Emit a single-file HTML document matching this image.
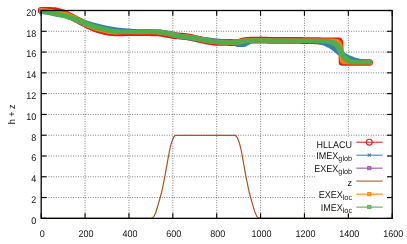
<!DOCTYPE html>
<html><head><meta charset="utf-8"><title>plot</title>
<style>
html,body{margin:0;padding:0;background:#fff;}
svg{display:block}
text{font-family:"Liberation Sans",sans-serif;fill:#000;text-rendering:geometricPrecision}
</style></head><body>
<svg width="407" height="244" viewBox="0 0 407 244">
<rect width="407" height="244" fill="#fff"/>
<g stroke="#000" stroke-width="0.85" stroke-dasharray="0.85 1.61" stroke-opacity="0.7" fill="none"><line x1="85.08" y1="10.5" x2="85.08" y2="218.35"/><line x1="128.95" y1="10.5" x2="128.95" y2="218.35"/><line x1="172.82" y1="10.5" x2="172.82" y2="218.35"/><line x1="216.70" y1="10.5" x2="216.70" y2="218.35"/><line x1="260.57" y1="10.5" x2="260.57" y2="218.35"/><line x1="304.45" y1="10.5" x2="304.45" y2="218.35"/><line x1="348.32" y1="10.5" x2="348.32" y2="218.35"/><line x1="41.2" y1="197.56" x2="392.2" y2="197.56"/><line x1="41.2" y1="176.78" x2="392.2" y2="176.78"/><line x1="41.2" y1="156.00" x2="392.2" y2="156.00"/><line x1="41.2" y1="135.21" x2="392.2" y2="135.21"/><line x1="41.2" y1="114.42" x2="392.2" y2="114.42"/><line x1="41.2" y1="93.64" x2="392.2" y2="93.64"/><line x1="41.2" y1="72.85" x2="392.2" y2="72.85"/><line x1="41.2" y1="52.07" x2="392.2" y2="52.07"/><line x1="41.2" y1="31.28" x2="392.2" y2="31.28"/></g>
<g fill="none" stroke="#e41a1c" stroke-linecap="round" stroke-linejoin="round"><path d="M41.20,10.50 L41.70,10.50 L42.20,10.50 L42.70,10.50 L43.20,10.50 L43.70,10.50 L44.20,10.50 L44.70,10.50 L45.20,10.50 L45.70,10.50 L46.20,10.50 L46.70,10.50 L47.20,10.50 L47.70,10.50 L48.20,10.50 L48.70,10.50 L49.20,10.50 L49.70,10.50 L50.20,10.51 L50.70,10.51 L51.20,10.52 L51.70,10.53 L52.20,10.54 L52.70,10.55 L53.20,10.56 L53.70,10.57 L54.20,10.59 L54.69,10.62 L55.19,10.69 L55.67,10.79 L56.16,10.91 L56.64,11.03 L57.13,11.16 L57.61,11.29 L58.09,11.42 L58.58,11.54 L59.06,11.67 L59.54,11.80 L60.02,11.94 L60.50,12.08 L60.98,12.23 L61.46,12.38 L61.93,12.53 L62.41,12.69 L62.88,12.84 L63.36,13.00 L63.83,13.16 L64.31,13.31 L64.78,13.47 L65.25,13.64 L65.71,13.84 L66.16,14.05 L66.60,14.28 L67.05,14.51 L67.49,14.74 L67.93,14.97 L68.38,15.21 L68.82,15.44 L69.26,15.67 L69.70,15.90 L70.15,16.13 L70.59,16.37 L71.03,16.60 L71.48,16.83 L71.92,17.06 L72.36,17.29 L72.80,17.53 L73.25,17.76 L73.69,17.99 L74.13,18.22 L74.58,18.45 L75.02,18.69 L75.46,18.92 L75.90,19.15 L76.35,19.38 L76.79,19.62 L77.23,19.85 L77.67,20.09 L78.11,20.32 L78.56,20.56 L79.00,20.79 L79.44,21.02 L79.88,21.26 L80.32,21.49 L80.76,21.73 L81.21,21.96 L81.65,22.20 L82.09,22.43 L82.53,22.67 L82.97,22.90 L83.41,23.13 L83.86,23.37 L84.30,23.60 L84.74,23.84 L85.18,24.07 L85.63,24.30 L86.07,24.52 L86.53,24.74 L86.98,24.95 L87.43,25.16 L87.88,25.37 L88.34,25.58 L88.79,25.79 L89.25,26.00 L89.70,26.21 L90.15,26.42 L90.61,26.63 L91.06,26.84 L91.51,27.05 L91.97,27.26 L92.42,27.48 L92.87,27.69 L93.33,27.90 L93.78,28.11 L94.23,28.32 L94.69,28.53 L95.14,28.73 L95.60,28.92 L96.07,29.09 L96.55,29.23 L97.03,29.37 L97.51,29.50 L98.00,29.63 L98.48,29.77 L98.96,29.90 L99.44,30.03 L99.93,30.16 L100.41,30.30 L100.89,30.43 L101.37,30.56 L101.85,30.70 L102.34,30.83 L102.82,30.96 L103.30,31.09 L103.78,31.23 L104.26,31.36 L104.75,31.49 L105.23,31.61 L105.72,31.72 L106.21,31.82 L106.70,31.91 L107.19,32.00 L107.68,32.09 L108.18,32.18 L108.67,32.26 L109.16,32.35 L109.65,32.42 L110.15,32.49 L110.65,32.53 L111.15,32.56 L111.64,32.59 L112.14,32.62 L112.64,32.65 L113.14,32.68 L113.64,32.71 L114.14,32.73 L114.64,32.76 L115.14,32.78 L115.64,32.79 L116.14,32.79 L116.64,32.78 L117.14,32.78 L117.64,32.77 L118.14,32.77 L118.64,32.76 L119.14,32.76 L119.64,32.75 L120.14,32.75 L120.64,32.75 L121.14,32.74 L121.64,32.74 L122.14,32.74 L122.64,32.74 L123.14,32.73 L123.64,32.73 L124.14,32.73 L124.64,32.73 L125.14,32.72 L125.64,32.72 L126.14,32.72 L126.64,32.72 L127.14,32.71 L127.64,32.71 L128.14,32.71 L128.64,32.71 L129.14,32.70 L129.64,32.70 L130.14,32.70 L130.64,32.70 L131.14,32.70 L131.64,32.70 L132.14,32.70 L132.64,32.70 L133.14,32.70 L133.64,32.70 L134.14,32.70 L134.64,32.70 L135.14,32.70 L135.64,32.70 L136.14,32.70 L136.64,32.70 L137.14,32.70 L137.64,32.70 L138.14,32.70 L138.64,32.70 L139.14,32.70 L139.64,32.70 L140.14,32.70 L140.64,32.70 L141.14,32.70 L141.64,32.70 L142.14,32.70 L142.64,32.70 L143.14,32.70 L143.64,32.70 L144.14,32.70 L144.64,32.70 L145.14,32.70 L145.64,32.70 L146.14,32.70 L146.64,32.70 L147.14,32.70 L147.64,32.70 L148.14,32.70 L148.64,32.70 L149.14,32.70 L149.64,32.70 L150.14,32.71 L150.64,32.72 L151.14,32.73 L151.64,32.75 L152.14,32.77 L152.64,32.78 L153.14,32.80 L153.64,32.81 L154.14,32.83 L154.64,32.84 L155.14,32.86 L155.64,32.87 L156.14,32.89 L156.63,32.90 L157.13,32.92 L157.63,32.93 L158.13,32.95 L158.63,32.97 L159.13,32.99 L159.63,33.02 L160.13,33.08 L160.62,33.15 L161.11,33.24 L161.60,33.33 L162.10,33.42 L162.59,33.51 L163.08,33.60 L163.57,33.69 L164.06,33.78 L164.56,33.86 L165.05,33.95 L165.54,34.04 L166.03,34.13 L166.52,34.22 L167.02,34.31 L167.51,34.40 L168.00,34.49 L168.49,34.58 L168.98,34.67 L169.47,34.76 L169.96,34.86 L170.46,34.95 L170.95,35.05 L171.44,35.15 L171.93,35.25 L172.42,35.35 L172.90,35.45 L173.39,35.55 L173.89,35.65 L174.38,35.73 L174.87,35.79 L175.37,35.83 L175.87,35.85 L176.37,35.87 L176.87,35.89 L177.37,35.91 L177.87,35.93 L178.37,35.95 L178.87,35.98 L179.37,36.00 L179.86,36.04 L180.36,36.08 L180.86,36.13 L181.36,36.17 L181.86,36.22 L182.35,36.26 L182.85,36.31 L183.35,36.36 L183.85,36.40 L184.35,36.45 L184.84,36.49 L185.34,36.54 L185.84,36.60 L186.33,36.66 L186.83,36.73 L187.32,36.80 L187.82,36.88 L188.31,36.95 L188.81,37.03 L189.30,37.12 L189.79,37.22 L190.27,37.33 L190.76,37.44 L191.25,37.55 L191.74,37.66 L192.22,37.77 L192.71,37.89 L193.20,38.00 L193.69,38.11 L194.17,38.22 L194.66,38.34 L195.15,38.45 L195.63,38.56 L196.12,38.67 L196.61,38.78 L197.10,38.89 L197.59,39.00 L198.07,39.11 L198.56,39.21 L199.05,39.32 L199.54,39.43 L200.03,39.54 L200.51,39.65 L201.00,39.76 L201.49,39.86 L201.98,39.97 L202.47,40.08 L202.96,40.19 L203.44,40.30 L203.93,40.41 L204.42,40.52 L204.91,40.62 L205.40,40.73 L205.89,40.82 L206.38,40.91 L206.87,40.99 L207.37,41.07 L207.86,41.15 L208.35,41.23 L208.85,41.31 L209.34,41.39 L209.83,41.47 L210.33,41.56 L210.82,41.64 L211.31,41.72 L211.81,41.80 L212.30,41.88 L212.79,41.96 L213.29,42.04 L213.78,42.12 L214.27,42.20 L214.77,42.27 L215.26,42.34 L215.76,42.38 L216.26,42.40 L216.76,42.41 L217.26,42.41 L217.76,42.41 L218.26,42.41 L218.76,42.42 L219.26,42.42 L219.76,42.42 L220.26,42.42 L220.76,42.43 L221.26,42.43 L221.76,42.43 L222.26,42.43 L222.76,42.44 L223.26,42.44 L223.76,42.44 L224.26,42.44 L224.76,42.45 L225.26,42.45 L225.76,42.45 L226.26,42.46 L226.76,42.46 L227.26,42.47 L227.76,42.47 L228.26,42.47 L228.76,42.48 L229.26,42.48 L229.76,42.48 L230.26,42.49 L230.76,42.49 L231.26,42.50 L231.76,42.51 L232.26,42.53 L232.76,42.56 L233.26,42.59 L233.75,42.62 L234.25,42.65 L234.75,42.68 L235.25,42.71 L235.75,42.74 L236.25,42.76 L236.75,42.76 L237.25,42.73 L237.74,42.69 L238.24,42.63 L238.73,42.57 L239.22,42.47 L239.68,42.32 L240.13,42.11 L240.56,41.87 L241.00,41.63 L241.44,41.41 L241.90,41.23 L242.37,41.11 L242.86,41.01 L243.36,40.93 L243.85,40.85 L244.34,40.77 L244.84,40.69 L245.33,40.61 L245.82,40.53 L246.32,40.46 L246.81,40.41 L247.31,40.37 L247.81,40.34 L248.31,40.31 L248.81,40.29 L249.31,40.26 L249.81,40.24 L250.31,40.21 L250.81,40.19 L251.31,40.17 L251.81,40.15 L252.31,40.14 L252.81,40.13 L253.31,40.12 L253.81,40.11 L254.31,40.11 L254.81,40.10 L255.31,40.09 L255.81,40.08 L256.31,40.08 L256.81,40.07 L257.31,40.06 L257.81,40.05 L258.31,40.05 L258.81,40.04 L259.31,40.03 L259.81,40.02 L260.31,40.02 L260.81,40.01 L261.31,40.01 L261.80,40.02 L262.30,40.04 L262.80,40.06 L263.30,40.08 L263.80,40.10 L264.30,40.12 L264.80,40.14 L265.30,40.16 L265.80,40.18 L266.30,40.20 L266.80,40.22 L267.30,40.24 L267.80,40.26 L268.30,40.28 L268.80,40.30 L269.30,40.32 L269.80,40.34 L270.30,40.35 L270.80,40.35 L271.30,40.35 L271.80,40.35 L272.30,40.35 L272.80,40.35 L273.30,40.36 L273.80,40.36 L274.30,40.36 L274.80,40.36 L275.30,40.36 L275.80,40.36 L276.30,40.36 L276.80,40.36 L277.30,40.36 L277.80,40.36 L278.30,40.36 L278.80,40.37 L279.30,40.37 L279.80,40.37 L280.30,40.37 L280.80,40.37 L281.30,40.37 L281.80,40.37 L282.30,40.37 L282.80,40.37 L283.30,40.37 L283.80,40.37 L284.30,40.38 L284.80,40.38 L285.30,40.38 L285.80,40.38 L286.30,40.38 L286.80,40.38 L287.30,40.38 L287.80,40.38 L288.30,40.38 L288.80,40.38 L289.30,40.38 L289.80,40.39 L290.30,40.39 L290.80,40.39 L291.30,40.39 L291.80,40.39 L292.30,40.39 L292.80,40.39 L293.30,40.39 L293.80,40.39 L294.30,40.39 L294.80,40.39 L295.30,40.40 L295.80,40.40 L296.30,40.40 L296.80,40.40 L297.30,40.40 L297.80,40.40 L298.30,40.41 L298.80,40.42 L299.30,40.43 L299.80,40.44 L300.30,40.46 L300.80,40.47 L301.30,40.48 L301.80,40.49 L302.30,40.51 L302.80,40.52 L303.30,40.53 L303.80,40.54 L304.30,40.56 L304.80,40.57 L305.30,40.58 L305.80,40.59 L306.30,40.61 L306.80,40.62 L307.30,40.63 L307.80,40.64 L308.29,40.66 L308.79,40.67 L309.29,40.68 L309.79,40.69 L310.29,40.70 L310.79,40.71 L311.29,40.71 L311.79,40.71 L312.29,40.72 L312.79,40.72 L313.29,40.72 L313.79,40.73 L314.29,40.73 L314.79,40.73 L315.29,40.74 L315.79,40.74 L316.29,40.74 L316.79,40.75 L317.29,40.75 L317.79,40.76 L318.29,40.76 L318.79,40.76 L319.29,40.77 L319.79,40.77 L320.29,40.77 L320.79,40.78 L321.29,40.78 L321.79,40.78 L322.29,40.79 L322.79,40.79 L323.29,40.79 L323.79,40.80 L324.29,40.80 L324.79,40.80 L325.29,40.80 L325.79,40.80 L326.29,40.80 L326.79,40.80 L327.29,40.80 L327.79,40.80 L328.29,40.80 L328.79,40.80 L329.29,40.80 L329.79,40.80 L330.29,40.80 L330.79,40.80 L331.29,40.80 L331.79,40.80 L332.29,40.80 L332.79,40.80 L333.29,40.80 L333.79,40.80 L334.29,40.80 L334.79,40.80 L335.29,40.80 L335.79,40.81 L336.29,40.81 L336.79,40.83 L337.29,40.84 L337.79,40.86 L338.26,40.88 L338.66,40.89 L339.00,40.90" stroke-width="6.8"/><path d="M340.50,42.20 L340.53,42.70 L340.55,43.20 L340.58,43.70 L340.60,44.20 L340.63,44.70 L340.65,45.20 L340.68,45.70 L340.71,46.19 L340.73,46.69 L340.76,47.19 L340.78,47.69 L340.81,48.19 L340.84,48.69 L340.87,49.19 L340.90,49.69 L340.93,50.19 L340.95,50.69 L340.98,51.19 L341.01,51.69 L341.04,52.19 L341.07,52.68 L341.10,53.18 L341.12,53.68 L341.15,54.18 L341.18,54.68 L341.20,55.18 L341.22,55.68 L341.23,56.18 L341.25,56.68 L341.26,57.18 L341.27,57.68 L341.29,58.18 L341.30,58.68 L341.31,59.18 L341.33,59.68 L341.34,60.18 L341.36,60.68 L341.37,61.17 L341.38,61.63 L341.39,62.01 L341.40,62.30" stroke-width="5.3"/><path d="M342.20,62.45 L342.70,62.45 L343.20,62.45 L343.70,62.45 L344.20,62.45 L344.70,62.45 L345.20,62.45 L345.70,62.45 L346.20,62.45 L346.70,62.45 L347.20,62.45 L347.70,62.45 L348.20,62.45 L348.70,62.45 L349.20,62.45 L349.70,62.45 L350.20,62.45 L350.70,62.45 L351.20,62.45 L351.70,62.45 L352.20,62.45 L352.70,62.45 L353.20,62.45 L353.70,62.45 L354.20,62.45 L354.70,62.45 L355.20,62.45 L355.70,62.45 L356.20,62.45 L356.70,62.45 L357.20,62.45 L357.70,62.45 L358.20,62.45 L358.70,62.45 L359.20,62.45 L359.70,62.45 L360.20,62.45 L360.70,62.45 L361.20,62.45 L361.70,62.45 L362.20,62.45 L362.70,62.45 L363.20,62.45 L363.70,62.45 L364.20,62.45 L364.70,62.45 L365.20,62.45 L365.70,62.45 L366.20,62.45 L366.70,62.45 L367.20,62.45 L367.70,62.45 L368.20,62.45 L368.69,62.45 L369.15,62.45 L369.60,62.45" stroke-width="6.6"/></g>
<path d="M39.1,9.25 39.6,9.25 40.1,9.25 40.6,9.25 41.1,9.25 41.6,9.25 42.1,9.25 42.6,9.25 43.1,9.25 43.6,9.33 44.1,9.41 44.6,9.48 45.1,9.56 45.6,9.64 46.1,9.72 46.6,9.80 47.1,9.87 47.6,9.95 48.1,10.03 48.6,10.11 49.1,10.19 49.6,10.26 50.1,10.34 50.6,10.42 51.1,10.50 51.6,10.58 52.1,10.66 52.6,10.74 53.1,10.84 53.6,10.95 54.1,11.06 54.6,11.17 55.1,11.28 55.6,11.40 56.1,11.51 56.6,11.62 57.1,11.73 57.6,11.84 58.1,11.96 58.6,12.07 59.1,12.18 59.6,12.29 60.1,12.49 60.6,12.57 61.1,12.66 61.6,12.74 62.1,12.82 62.6,12.90 63.1,12.98 63.6,13.06 64.1,13.14 64.6,13.22 65.1,13.30 65.6,13.38 66.1,13.46 66.6,13.54 67.1,13.64 67.6,13.75 68.1,13.89 68.6,14.03 69.1,14.17 69.6,14.32 70.1,14.46 70.6,14.61 71.1,14.76 71.6,14.90 72.1,15.05 72.6,15.19 73.1,15.34 73.6,15.48 74.1,15.63 74.6,15.78 75.1,15.92 75.6,16.07 76.1,16.21 76.6,16.51 77.1,16.65 77.6,16.81 78.1,16.98 78.6,17.16 79.1,17.35 79.6,17.54 80.1,17.73 80.6,17.91 81.1,18.10 81.6,18.29 82.1,18.48 82.6,18.67 83.1,18.86 83.6,19.24 84.1,19.43 84.6,19.61 85.1,19.80 85.6,19.99 86.1,20.18 86.6,20.37 87.1,20.56 87.6,20.73 88.1,20.90 88.6,21.05 89.1,21.18 89.6,21.32 90.1,21.46 90.6,21.59 91.1,21.73 91.6,22.00 92.1,22.14 92.6,22.27 93.1,22.41 93.6,22.55 94.1,22.68 94.6,22.82 95.1,22.95 95.6,23.09 96.1,23.23 96.6,23.36 97.1,23.50 97.6,23.62 98.1,23.75 98.6,23.86 99.1,23.97 99.6,24.08 100.1,24.20 100.6,24.31 101.1,24.42 101.6,24.53 102.1,24.64 102.6,24.76 103.1,24.87 103.6,24.98 104.1,25.09 104.6,25.20 105.1,25.32 105.6,25.43 106.1,25.54 106.6,25.65 107.1,25.76 107.6,25.95 108.1,26.04 108.6,26.11 109.1,26.19 109.6,26.27 110.1,26.34 110.6,26.42 111.1,26.50 111.6,26.58 112.1,26.66 112.6,26.74 113.1,26.82 113.6,26.91 114.1,26.99 114.6,27.07 115.1,27.16 115.6,27.24 116.1,27.33 116.6,27.41 117.1,27.48 117.6,27.54 118.1,27.59 118.6,27.65 119.1,27.69 119.6,27.74 120.1,27.79 120.6,27.84 121.1,27.89 121.6,27.94 122.1,27.99 122.6,28.03 123.1,28.08 123.6,28.13 124.1,28.17 124.6,28.22 125.1,28.26 125.6,28.31 126.1,28.35 126.6,28.40 127.1,28.44 127.6,28.49 128.1,28.53 128.6,28.58 129.1,28.62 129.6,28.67 130.1,28.71 130.6,28.76 131.1,28.80 131.6,28.83 132.1,28.86 132.6,28.88 133.1,28.89 133.6,28.90 134.1,28.92 134.6,28.93 135.1,28.94 135.6,28.95 136.1,28.97 136.6,28.98 137.1,28.99 137.6,29.01 138.1,29.02 138.6,29.03 139.1,29.05 139.6,29.06 140.1,29.07 140.6,29.09 141.1,29.10 141.6,29.11 142.1,29.12 142.6,29.14 143.1,29.15 143.6,29.16 144.1,29.18 144.6,29.19 145.1,29.20 145.6,29.22 146.1,29.23 146.6,29.24 147.1,29.25 147.6,29.27 148.1,29.28 148.6,29.29 149.1,29.30 149.6,29.31 150.1,29.33 150.6,29.34 151.1,29.35 151.6,29.36 152.1,29.37 152.6,29.38 153.1,29.40 153.6,29.41 154.1,29.42 154.6,29.43 155.1,29.44 155.6,29.46 156.1,29.47 156.6,29.48 157.1,29.49 157.6,29.50 158.1,29.51 158.6,29.53 159.1,29.54 159.6,29.55 160.1,29.56 160.6,29.57 161.1,29.59 161.6,29.62 162.1,29.67 162.6,29.74 163.1,29.81 163.6,29.88 164.1,29.96 164.6,30.03 165.1,30.11 165.6,30.18 166.1,30.26 166.6,30.33 167.1,30.41 167.6,30.48 168.1,30.56 168.6,30.63 169.1,30.71 169.6,30.78 170.1,30.86 170.6,30.93 171.1,31.01 171.6,31.10 172.1,31.21 172.6,31.33 173.1,31.45 173.6,31.58 174.1,31.71 174.6,31.84 175.1,31.96 175.6,32.09 176.1,32.23 176.6,32.37 177.1,32.72 177.6,32.91 178.1,33.11 178.6,33.31 179.1,33.50 179.6,33.70 180.1,33.90 180.6,34.09 181.1,34.28 181.6,34.43 182.1,34.55 182.6,34.63 183.1,34.70 183.6,34.77 184.1,34.84 184.6,34.91 185.1,34.97 185.6,35.04 186.1,35.11 186.6,35.18 187.1,35.25 187.6,35.31 188.1,35.38 188.6,35.45 189.1,35.52 189.6,35.66 190.1,35.72 190.6,35.79 191.1,35.85 191.6,35.90 192.1,35.95 192.6,36.00 193.1,36.04 193.6,36.09 194.1,36.13 194.6,36.18 195.1,36.22 195.6,36.27 196.1,36.32 196.6,36.36 197.1,36.41 197.6,36.45 198.1,36.50 198.6,36.54 199.1,36.58 199.6,36.63 200.1,36.67 200.6,36.71 201.1,36.75 201.6,36.80 202.1,36.84 202.6,36.88 203.1,36.92 203.6,36.97 204.1,37.01 204.6,37.05 205.1,37.10 205.6,37.14 206.1,37.18 206.6,37.23 207.1,37.27 207.6,37.32 208.1,37.38 208.6,37.44 209.1,37.50 209.6,37.57 210.1,37.63 210.6,37.69 211.1,37.76 211.6,37.82 212.1,37.88 212.6,37.95 213.1,38.01 213.6,38.07 214.1,38.14 214.6,38.20 215.1,38.26 215.6,38.33 216.1,38.39 216.6,38.45 217.1,38.51 217.6,38.57 218.1,38.62 218.6,38.66 219.1,38.71 219.6,38.75 220.1,38.80 220.6,38.85 221.1,38.89 221.6,38.94 222.1,38.98 222.6,39.03 223.1,39.07 223.6,39.12 224.1,39.17 224.6,39.21 225.1,39.26 225.6,39.30 226.1,39.35 226.6,39.39 227.1,39.43 227.6,39.47 228.1,39.50 228.6,39.54 229.1,39.57 229.6,39.60 230.1,39.63 230.6,39.66 231.1,39.69 231.6,39.72 232.1,39.75 232.6,39.78 233.1,39.82 233.6,39.88 234.1,39.97 234.6,40.08 235.1,40.20 235.6,40.33 236.1,40.47 236.6,40.64 237.1,40.84 237.6,41.06 238.1,41.29 238.6,41.72 239.1,41.91 239.6,42.09 240.1,42.26 240.6,42.43 241.1,42.38 241.6,42.21 242.1,42.03 242.6,41.83 243.1,41.61 243.6,41.39 244.1,41.16 244.6,40.70 245.1,40.46 245.6,40.21 246.1,39.96 246.6,39.71 247.1,39.48 247.6,39.27 248.1,39.08 248.6,38.75 249.1,38.61 249.6,38.51 250.1,38.45 250.6,38.43 251.1,38.42 251.6,38.41 252.1,38.40 252.6,38.39 253.1,38.38 253.6,38.37 254.1,38.36 254.6,38.35 255.1,38.33 255.6,38.32 256.1,38.31 256.6,38.30 257.1,38.29 257.6,38.28 258.1,38.27 258.6,38.27 259.1,38.26 259.6,38.26 260.1,38.26 260.6,38.26 261.1,38.26 261.6,38.26 262.1,38.26 262.6,38.26 263.1,38.26 263.6,38.27 264.1,38.28 264.6,38.30 265.1,38.31 265.6,38.33 266.1,38.35 266.6,38.37 267.1,38.38 267.6,38.40 268.1,38.42 268.6,38.43 269.1,38.45 269.6,38.47 270.1,38.49 270.6,38.50 271.1,38.52 271.6,38.53 272.1,38.54 272.6,38.55 273.1,38.55 273.6,38.55 274.1,38.55 274.6,38.55 275.1,38.56 275.6,38.56 276.1,38.56 276.6,38.56 277.1,38.56 277.6,38.56 278.1,38.56 278.6,38.56 279.1,38.56 279.6,38.56 280.1,38.56 280.6,38.57 281.1,38.57 281.6,38.57 282.1,38.57 282.6,38.57 283.1,38.57 283.6,38.57 284.1,38.57 284.6,38.57 285.1,38.57 285.6,38.57 286.1,38.58 286.6,38.58 287.1,38.58 287.6,38.58 288.1,38.58 288.6,38.58 289.1,38.58 289.6,38.58 290.1,38.58 290.6,38.58 291.1,38.58 291.6,38.59 292.1,38.59 292.6,38.59 293.1,38.59 293.6,38.59 294.1,38.59 294.6,38.59 295.1,38.59 295.6,38.59 296.1,38.59 296.6,38.59 297.1,38.59 297.6,38.60 298.1,38.60 298.6,38.60 299.1,38.60 299.6,38.60 300.1,38.60 300.6,38.61 301.1,38.62 301.6,38.62 302.1,38.63 302.6,38.64 303.1,38.65 303.6,38.65 304.1,38.66 304.6,38.67 305.1,38.68 305.6,38.68 306.1,38.69 306.6,38.70 307.1,38.71 307.6,38.71 308.1,38.72 308.6,38.73 309.1,38.74 309.6,38.75 310.1,38.77 310.6,38.79 311.1,38.81 311.6,38.84 312.1,38.87 312.6,38.90 313.1,38.93 313.6,38.96 314.1,38.99 314.6,39.01 315.1,39.04 315.6,39.07 316.1,39.10 316.6,39.14 317.1,39.19 317.6,39.25 318.1,39.33 318.6,39.41 319.1,39.49 319.6,39.56 320.1,39.64 320.6,39.72 321.1,39.80 321.6,39.89 322.1,39.98 322.6,40.08 323.1,40.19 323.6,40.30 324.1,40.41 324.6,40.52 325.1,40.63 325.6,40.75 326.1,40.88 326.6,41.01 327.1,41.15 327.6,41.45 328.1,41.63 328.6,41.83 329.1,42.04 329.6,42.26 330.1,42.48 330.6,42.69 331.1,42.91 331.6,43.12 332.1,43.34 332.6,43.80 333.1,44.05 333.6,44.33 334.1,44.61 334.6,44.90 335.1,45.18 335.6,45.76 336.1,46.04 336.6,46.33 337.1,46.62 337.6,47.20 338.1,47.52 338.6,47.84 339.1,48.52 339.6,48.85 340.1,49.19 340.6,49.83 341.1,50.13 341.6,50.42 342.1,50.72 342.6,51.29 343.1,51.57 343.6,51.85 344.1,52.12 344.6,52.39 345.1,52.93 345.6,53.20 346.1,53.47 346.6,53.73 347.1,53.98 347.6,54.22 348.1,54.69 348.6,54.93 349.1,55.16 349.6,55.40 350.1,55.62 350.6,55.83 351.1,56.02 351.6,56.20 352.1,56.37 352.6,56.53 353.1,56.87 353.6,57.04 354.1,57.20 354.6,57.36 355.1,57.51 355.6,57.65 356.1,57.79 356.6,57.93 357.1,58.06 357.6,58.20 358.1,58.33 358.6,58.47 359.1,58.60 359.6,58.73 360.1,58.84 360.6,58.94 361.1,59.03 361.6,59.11 362.1,59.19 362.6,59.27 363.1,59.36 363.6,59.44 364.1,59.52 364.6,59.60 365.1,59.68 365.6,59.76 366.1,59.82 366.6,59.87 367.1,59.90 367.6,59.93 368.1,59.96 368.6,59.98 369.1,60.01 369.6,60.04 370.1,60.06 370.6,60.09 371.1,60.11 371.6,60.15 371.6,64.45 371.1,64.45 370.6,64.45 370.1,64.45 369.6,64.45 369.1,64.45 368.6,64.45 368.1,64.45 367.6,64.45 367.1,64.41 366.6,64.39 366.1,64.36 365.6,64.34 365.1,64.31 364.6,64.28 364.1,64.26 363.6,64.23 363.1,64.20 362.6,64.17 362.1,64.12 361.6,64.06 361.1,63.98 360.6,63.90 360.1,63.82 359.6,63.74 359.1,63.66 358.6,63.57 358.1,63.49 357.6,63.41 357.1,63.33 356.6,63.24 356.1,63.14 355.6,63.03 355.1,62.90 354.6,62.77 354.1,62.63 353.6,62.50 353.1,62.36 352.6,62.23 352.1,61.95 351.6,61.81 351.1,61.66 350.6,61.50 350.1,61.34 349.6,61.17 349.1,61.00 348.6,60.83 348.1,60.67 347.6,60.50 347.1,60.32 346.6,60.13 346.1,59.92 345.6,59.70 345.1,59.23 344.6,58.99 344.1,58.76 343.6,58.52 343.1,58.28 342.6,58.03 342.1,57.77 341.6,57.23 341.1,56.96 340.6,56.69 340.1,56.42 339.6,56.15 339.1,55.59 338.6,55.31 338.1,55.02 337.6,54.72 337.1,54.43 336.6,53.81 336.1,53.49 335.6,53.15 335.1,52.48 334.6,52.14 334.1,51.82 333.6,51.21 333.1,50.92 332.6,50.63 332.1,50.34 331.6,49.77 331.1,49.48 330.6,49.20 330.1,48.91 329.6,48.63 329.1,48.10 328.6,47.86 328.1,47.64 327.6,47.42 327.1,47.21 326.6,46.99 326.1,46.78 325.6,46.56 325.1,46.13 324.6,45.93 324.1,45.75 323.6,45.59 323.1,45.45 322.6,45.31 322.1,45.18 321.6,45.05 321.1,44.93 320.6,44.82 320.1,44.71 319.6,44.60 319.1,44.49 318.6,44.38 318.1,44.28 317.6,44.19 317.1,44.10 316.6,44.02 316.1,43.94 315.6,43.86 315.1,43.79 314.6,43.71 314.1,43.63 313.6,43.55 313.1,43.49 312.6,43.44 312.1,43.40 311.6,43.37 311.1,43.34 310.6,43.31 310.1,43.29 309.6,43.26 309.1,43.23 308.6,43.20 308.1,43.17 307.6,43.14 307.1,43.11 306.6,43.09 306.1,43.07 305.6,43.05 305.1,43.04 304.6,43.03 304.1,43.02 303.6,43.01 303.1,43.01 302.6,43.00 302.1,42.99 301.6,42.98 301.1,42.98 300.6,42.97 300.1,42.96 299.6,42.95 299.1,42.95 298.6,42.94 298.1,42.93 297.6,42.92 297.1,42.92 296.6,42.91 296.1,42.90 295.6,42.90 295.1,42.90 294.6,42.90 294.1,42.90 293.6,42.90 293.1,42.89 292.6,42.89 292.1,42.89 291.6,42.89 291.1,42.89 290.6,42.89 290.1,42.89 289.6,42.89 289.1,42.89 288.6,42.89 288.1,42.89 287.6,42.89 287.1,42.88 286.6,42.88 286.1,42.88 285.6,42.88 285.1,42.88 284.6,42.88 284.1,42.88 283.6,42.88 283.1,42.88 282.6,42.88 282.1,42.88 281.6,42.87 281.1,42.87 280.6,42.87 280.1,42.87 279.6,42.87 279.1,42.87 278.6,42.87 278.1,42.87 277.6,42.87 277.1,42.87 276.6,42.87 276.1,42.86 275.6,42.86 275.1,42.86 274.6,42.86 274.1,42.86 273.6,42.86 273.1,42.86 272.6,42.86 272.1,42.86 271.6,42.86 271.1,42.86 270.6,42.85 270.1,42.85 269.6,42.85 269.1,42.85 268.6,42.85 268.1,42.84 267.6,42.83 267.1,42.82 266.6,42.80 266.1,42.79 265.6,42.77 265.1,42.75 264.6,42.73 264.1,42.72 263.6,42.70 263.1,42.68 262.6,42.67 262.1,42.65 261.6,42.63 261.1,42.61 260.6,42.60 260.1,42.61 259.6,42.62 259.1,42.63 258.6,42.65 258.1,42.66 257.6,42.67 257.1,42.68 256.6,42.69 256.1,42.70 255.6,42.71 255.1,42.72 254.6,42.73 254.1,42.75 253.6,42.81 253.1,42.91 252.6,43.05 252.1,43.21 251.6,43.38 251.1,43.57 250.6,43.78 250.1,44.26 249.6,44.51 249.1,44.76 248.6,45.00 248.1,45.23 247.6,45.46 247.1,45.69 246.6,46.13 246.1,46.33 245.6,46.51 245.1,46.68 244.6,46.84 244.1,46.98 243.6,47.07 243.1,47.10 242.6,47.10 242.1,47.10 241.6,47.10 241.1,47.10 240.6,47.10 240.1,47.10 239.6,47.10 239.1,47.10 238.6,47.10 238.1,47.06 237.6,47.00 237.1,46.88 236.6,46.73 236.1,46.39 235.6,46.21 235.1,46.02 234.6,45.81 234.1,45.59 233.6,45.36 233.1,45.14 232.6,44.94 232.1,44.77 231.6,44.63 231.1,44.50 230.6,44.38 230.1,44.27 229.6,44.18 229.1,44.12 228.6,44.08 228.1,44.05 227.6,44.02 227.1,43.99 226.6,43.96 226.1,43.93 225.6,43.90 225.1,43.87 224.6,43.84 224.1,43.80 223.6,43.77 223.1,43.73 222.6,43.69 222.1,43.65 221.6,43.56 221.1,43.51 220.6,43.47 220.1,43.42 219.6,43.37 219.1,43.33 218.6,43.28 218.1,43.24 217.6,43.19 217.1,43.15 216.6,43.10 216.1,43.05 215.6,43.01 215.1,42.96 214.6,42.92 214.1,42.87 213.6,42.81 213.1,42.75 212.6,42.69 212.1,42.63 211.6,42.56 211.1,42.50 210.6,42.44 210.1,42.37 209.6,42.31 209.1,42.25 208.6,42.18 208.1,42.12 207.6,42.06 207.1,41.99 206.6,41.93 206.1,41.87 205.6,41.80 205.1,41.74 204.6,41.68 204.1,41.62 203.6,41.57 203.1,41.53 202.6,41.48 202.1,41.44 201.6,41.40 201.1,41.35 200.6,41.31 200.1,41.27 199.6,41.22 199.1,41.18 198.6,41.14 198.1,41.10 197.6,41.05 197.1,41.01 196.6,40.97 196.1,40.93 195.6,40.88 195.1,40.84 194.6,40.80 194.1,40.75 193.6,40.71 193.1,40.66 192.6,40.62 192.1,40.57 191.6,40.52 191.1,40.48 190.6,40.43 190.1,40.39 189.6,40.34 189.1,40.30 188.6,40.25 188.1,40.20 187.6,40.15 187.1,40.09 186.6,40.02 186.1,39.96 185.6,39.89 185.1,39.82 184.6,39.75 184.1,39.68 183.6,39.61 183.1,39.55 182.6,39.48 182.1,39.41 181.6,39.34 181.1,39.27 180.6,39.21 180.1,39.14 179.6,39.07 179.1,39.00 178.6,38.93 178.1,38.85 177.6,38.73 177.1,38.58 176.6,38.39 176.1,38.20 175.6,38.00 175.1,37.80 174.6,37.41 174.1,37.21 173.6,37.02 173.1,36.84 172.6,36.67 172.1,36.53 171.6,36.39 171.1,36.26 170.6,36.14 170.1,36.01 169.6,35.88 169.1,35.75 168.6,35.63 168.1,35.51 167.6,35.40 167.1,35.31 166.6,35.23 166.1,35.16 165.6,35.08 165.1,35.01 164.6,34.93 164.1,34.86 163.6,34.78 163.1,34.71 162.6,34.63 162.1,34.56 161.6,34.48 161.1,34.41 160.6,34.33 160.1,34.26 159.6,34.18 159.1,34.11 158.6,34.04 158.1,33.97 157.6,33.92 157.1,33.89 156.6,33.87 156.1,33.86 155.6,33.85 155.1,33.84 154.6,33.83 154.1,33.81 153.6,33.80 153.1,33.79 152.6,33.78 152.1,33.77 151.6,33.76 151.1,33.74 150.6,33.73 150.1,33.72 149.6,33.71 149.1,33.70 148.6,33.68 148.1,33.67 147.6,33.66 147.1,33.65 146.6,33.64 146.1,33.63 145.6,33.61 145.1,33.60 144.6,33.59 144.1,33.58 143.6,33.57 143.1,33.55 142.6,33.54 142.1,33.53 141.6,33.52 141.1,33.50 140.6,33.49 140.1,33.48 139.6,33.46 139.1,33.45 138.6,33.44 138.1,33.42 137.6,33.41 137.1,33.40 136.6,33.39 136.1,33.37 135.6,33.36 135.1,33.35 134.6,33.33 134.1,33.32 133.6,33.31 133.1,33.29 132.6,33.28 132.1,33.27 131.6,33.25 131.1,33.24 130.6,33.23 130.1,33.22 129.6,33.20 129.1,33.19 128.6,33.18 128.1,33.16 127.6,33.13 127.1,33.10 126.6,33.06 126.1,32.97 125.6,32.92 125.1,32.88 124.6,32.83 124.1,32.79 123.6,32.74 123.1,32.70 122.6,32.65 122.1,32.61 121.6,32.56 121.1,32.52 120.6,32.47 120.1,32.43 119.6,32.38 119.1,32.33 118.6,32.29 118.1,32.24 117.6,32.19 117.1,32.14 116.6,32.09 116.1,32.04 115.6,31.99 115.1,31.95 114.6,31.89 114.1,31.84 113.6,31.78 113.1,31.71 112.6,31.63 112.1,31.54 111.6,31.46 111.1,31.37 110.6,31.29 110.1,31.21 109.6,31.12 109.1,31.04 108.6,30.96 108.1,30.88 107.6,30.80 107.1,30.72 106.6,30.64 106.1,30.57 105.6,30.49 105.1,30.41 104.6,30.34 104.1,30.25 103.6,30.16 103.1,30.06 102.6,29.95 102.1,29.84 101.6,29.73 101.1,29.62 100.6,29.50 100.1,29.39 99.6,29.28 99.1,29.17 98.6,29.06 98.1,28.94 97.6,28.83 97.1,28.72 96.6,28.61 96.1,28.50 95.6,28.38 95.1,28.27 94.6,28.16 94.1,28.05 93.6,27.92 93.1,27.80 92.6,27.66 92.1,27.39 91.6,27.25 91.1,27.12 90.6,26.98 90.1,26.85 89.6,26.71 89.1,26.57 88.6,26.44 88.1,26.30 87.6,26.17 87.1,26.03 86.6,25.89 86.1,25.76 85.6,25.62 85.1,25.48 84.6,25.35 84.1,25.20 83.6,25.03 83.1,24.86 82.6,24.67 82.1,24.48 81.6,24.29 81.1,23.91 80.6,23.73 80.1,23.54 79.6,23.35 79.1,23.16 78.6,22.97 78.1,22.78 77.6,22.59 77.1,22.40 76.6,22.21 76.1,22.03 75.6,21.84 75.1,21.46 74.6,21.28 74.1,21.11 73.6,20.95 73.1,20.81 72.6,20.66 72.1,20.51 71.6,20.37 71.1,20.22 70.6,20.08 70.1,19.93 69.6,19.78 69.1,19.64 68.6,19.49 68.1,19.35 67.6,19.20 67.1,19.06 66.6,18.91 66.1,18.76 65.6,18.62 65.1,18.33 64.6,18.19 64.1,18.05 63.6,17.94 63.1,17.84 62.6,17.76 62.1,17.68 61.6,17.60 61.1,17.52 60.6,17.44 60.1,17.36 59.6,17.28 59.1,17.20 58.6,17.12 58.1,17.04 57.6,16.96 57.1,16.87 56.6,16.79 56.1,16.69 55.6,16.59 55.1,16.48 54.6,16.37 54.1,16.26 53.6,16.14 53.1,16.03 52.6,15.92 52.1,15.81 51.6,15.70 51.1,15.58 50.6,15.47 50.1,15.36 49.6,15.25 49.1,15.14 48.6,15.04 48.1,14.96 47.6,14.88 47.1,14.80 46.6,14.72 46.1,14.64 45.6,14.56 45.1,14.49 44.6,14.41 44.1,14.33 43.6,14.25 43.1,14.17 42.6,14.10 42.1,14.02 41.6,13.94 41.1,13.86 40.6,13.78 40.1,13.71 39.6,13.63 39.1,13.55Z" fill="#377eb8"/>
<path d="M41.20,218.35 L150.50,218.35 L152.50,217.90 L154.00,216.30 L155.80,212.50 L158.00,205.20 L160.20,197.50 L161.70,192.00 L165.10,175.20 L168.50,156.00 L170.20,147.50 L171.70,142.20 L173.20,138.20 L174.50,136.20 L175.60,135.30 L235.20,135.30 L236.30,136.20 L237.60,138.20 L239.10,142.20 L240.60,147.50 L242.30,156.00 L245.70,175.20 L249.10,192.00 L250.60,197.50 L252.80,205.20 L255.00,212.50 L256.80,216.30 L258.30,217.90 L260.30,218.35 L369.60,218.35" fill="none" stroke="#a65628" stroke-width="1.2" stroke-linejoin="round"/>
<path d="M39.1,8.05 39.6,8.05 40.1,8.05 40.6,8.05 41.1,8.05 41.6,8.05 42.1,8.05 42.6,8.05 43.1,8.05 43.6,8.11 44.1,8.18 44.6,8.24 45.1,8.30 45.6,8.36 46.1,8.43 46.6,8.49 47.1,8.55 47.6,8.61 48.1,8.68 48.6,8.74 49.1,8.80 49.6,8.86 50.1,8.93 50.6,8.99 51.1,9.05 51.6,9.12 52.1,9.18 52.6,9.26 53.1,9.35 53.6,9.45 54.1,9.55 54.6,9.66 55.1,9.76 55.6,9.87 56.1,9.97 56.6,10.08 57.1,10.19 57.6,10.29 58.1,10.40 58.6,10.50 59.1,10.61 59.6,10.71 60.1,10.81 60.6,10.90 61.1,10.99 61.6,11.07 62.1,11.15 62.6,11.23 63.1,11.31 63.6,11.39 64.1,11.47 64.6,11.63 65.1,11.71 65.6,11.79 66.1,11.87 66.6,11.96 67.1,12.07 67.6,12.22 68.1,12.41 68.6,12.60 69.1,12.81 69.6,13.01 70.1,13.22 70.6,13.42 71.1,13.63 71.6,13.83 72.1,14.03 72.6,14.44 73.1,14.65 73.6,14.85 74.1,15.06 74.6,15.26 75.1,15.46 75.6,15.67 76.1,15.87 76.6,16.08 77.1,16.28 77.6,16.49 78.1,16.93 78.6,17.16 79.1,17.39 79.6,17.63 80.1,17.87 80.6,18.11 81.1,18.35 81.6,18.82 82.1,19.06 82.6,19.30 83.1,19.53 83.6,19.77 84.1,20.01 84.6,20.25 85.1,20.49 85.6,20.96 86.1,21.20 86.6,21.44 87.1,21.67 87.6,21.90 88.1,22.11 88.6,22.31 89.1,22.50 89.6,22.88 90.1,23.07 90.6,23.25 91.1,23.44 91.6,23.63 92.1,23.82 92.6,24.00 93.1,24.19 93.6,24.38 94.1,24.56 94.6,24.75 95.1,24.94 95.6,25.13 96.1,25.50 96.6,25.69 97.1,25.87 97.6,26.03 98.1,26.17 98.6,26.30 99.1,26.42 99.6,26.54 100.1,26.66 100.6,26.79 101.1,26.91 101.6,27.03 102.1,27.15 102.6,27.27 103.1,27.39 103.6,27.51 104.1,27.63 104.6,27.76 105.1,27.88 105.6,28.00 106.1,28.12 106.6,28.24 107.1,28.36 107.6,28.49 108.1,28.62 108.6,28.88 109.1,29.02 109.6,29.15 110.1,29.28 110.6,29.42 111.1,29.55 111.6,29.66 112.1,29.74 112.6,29.80 113.1,29.84 113.6,29.88 114.1,29.92 114.6,29.96 115.1,30.00 115.6,30.03 116.1,30.07 116.6,30.08 117.1,30.07 117.6,30.06 118.1,30.05 118.6,30.05 119.1,30.04 119.6,30.04 120.1,30.03 120.6,30.03 121.1,30.02 121.6,30.02 122.1,30.01 122.6,30.01 123.1,30.00 123.6,29.99 124.1,29.99 124.6,29.98 125.1,29.98 125.6,29.97 126.1,29.97 126.6,29.96 127.1,29.96 127.6,29.95 128.1,29.95 128.6,29.94 129.1,29.94 129.6,29.93 130.1,29.93 130.6,29.93 131.1,29.92 131.6,29.92 132.1,29.91 132.6,29.91 133.1,29.90 133.6,29.90 134.1,29.89 134.6,29.89 135.1,29.88 135.6,29.88 136.1,29.87 136.6,29.87 137.1,29.86 137.6,29.86 138.1,29.85 138.6,29.85 139.1,29.84 139.6,29.84 140.1,29.83 140.6,29.83 141.1,29.82 141.6,29.82 142.1,29.81 142.6,29.81 143.1,29.81 143.6,29.81 144.1,29.81 144.6,29.81 145.1,29.81 145.6,29.81 146.1,29.81 146.6,29.81 147.1,29.81 147.6,29.82 148.1,29.83 148.6,29.84 149.1,29.85 149.6,29.86 150.1,29.87 150.6,29.88 151.1,29.89 151.6,29.90 152.1,29.91 152.6,29.92 153.1,29.93 153.6,29.94 154.1,29.95 154.6,29.96 155.1,29.97 155.6,29.98 156.1,29.99 156.6,30.00 157.1,30.01 157.6,30.02 158.1,30.03 158.6,30.04 159.1,30.05 159.6,30.06 160.1,30.07 160.6,30.08 161.1,30.10 161.6,30.13 162.1,30.19 162.6,30.26 163.1,30.34 163.6,30.43 164.1,30.51 164.6,30.60 165.1,30.68 165.6,30.77 166.1,30.85 166.6,30.94 167.1,31.02 167.6,31.11 168.1,31.19 168.6,31.27 169.1,31.36 169.6,31.44 170.1,31.53 170.6,31.61 171.1,31.70 171.6,31.80 172.1,31.91 172.6,32.03 173.1,32.16 173.6,32.29 174.1,32.41 174.6,32.54 175.1,32.67 175.6,32.80 176.1,32.92 176.6,33.04 177.1,33.15 177.6,33.25 178.1,33.34 178.6,33.52 179.1,33.61 179.6,33.70 180.1,33.79 180.6,33.88 181.1,33.95 181.6,34.01 182.1,34.06 182.6,34.10 183.1,34.14 183.6,34.18 184.1,34.22 184.6,34.26 185.1,34.29 185.6,34.33 186.1,34.37 186.6,34.41 187.1,34.45 187.6,34.50 188.1,34.56 188.6,34.64 189.1,34.72 189.6,34.80 190.1,34.88 190.6,34.97 191.1,35.05 191.6,35.13 192.1,35.22 192.6,35.31 193.1,35.40 193.6,35.48 194.1,35.57 194.6,35.66 195.1,35.74 195.6,35.83 196.1,35.92 196.6,36.00 197.1,36.09 197.6,36.19 198.1,36.28 198.6,36.38 199.1,36.49 199.6,36.59 200.1,36.69 200.6,36.80 201.1,36.90 201.6,37.01 202.1,37.11 202.6,37.21 203.1,37.32 203.6,37.42 204.1,37.52 204.6,37.63 205.1,37.73 205.6,37.84 206.1,37.94 206.6,38.04 207.1,38.14 207.6,38.24 208.1,38.33 208.6,38.41 209.1,38.48 209.6,38.56 210.1,38.63 210.6,38.70 211.1,38.78 211.6,38.85 212.1,38.92 212.6,39.00 213.1,39.07 213.6,39.22 214.1,39.29 214.6,39.36 215.1,39.44 215.6,39.51 216.1,39.58 216.6,39.65 217.1,39.72 217.6,39.77 218.1,39.81 218.6,39.85 219.1,39.89 219.6,39.93 220.1,39.97 220.6,40.01 221.1,40.05 221.6,40.08 222.1,40.12 222.6,40.16 223.1,40.20 223.6,40.23 224.1,40.26 224.6,40.28 225.1,40.30 225.6,40.32 226.1,40.33 226.6,40.35 227.1,40.37 227.6,40.39 228.1,40.40 228.6,40.42 229.1,40.44 229.6,40.46 230.1,40.48 230.6,40.49 231.1,40.51 231.6,40.53 232.1,40.55 232.6,40.55 233.1,40.54 233.6,40.53 234.1,40.51 234.6,40.49 235.1,40.43 235.6,40.35 236.1,40.24 236.6,40.13 237.1,40.02 237.6,39.89 238.1,39.75 238.6,39.42 239.1,39.26 239.6,39.12 240.1,39.01 240.6,38.92 241.1,38.85 241.6,38.78 242.1,38.71 242.6,38.64 243.1,38.57 243.6,38.50 244.1,38.43 244.6,38.38 245.1,38.34 245.6,38.31 246.1,38.29 246.6,38.27 247.1,38.25 247.6,38.23 248.1,38.21 248.6,38.19 249.1,38.17 249.6,38.16 250.1,38.15 250.6,38.14 251.1,38.13 251.6,38.13 252.1,38.12 252.6,38.12 253.1,38.11 253.6,38.11 254.1,38.10 254.6,38.10 255.1,38.09 255.6,38.09 256.1,38.08 256.6,38.08 257.1,38.07 257.6,38.07 258.1,38.06 258.6,38.06 259.1,38.06 259.6,38.06 260.1,38.06 260.6,38.06 261.1,38.06 261.6,38.06 262.1,38.06 262.6,38.06 263.1,38.06 263.6,38.07 264.1,38.08 264.6,38.10 265.1,38.12 265.6,38.14 266.1,38.16 266.6,38.18 267.1,38.20 267.6,38.22 268.1,38.24 268.6,38.26 269.1,38.28 269.6,38.30 270.1,38.32 270.6,38.34 271.1,38.36 271.6,38.38 272.1,38.39 272.6,38.40 273.1,38.40 273.6,38.40 274.1,38.40 274.6,38.40 275.1,38.41 275.6,38.41 276.1,38.41 276.6,38.41 277.1,38.41 277.6,38.41 278.1,38.41 278.6,38.41 279.1,38.41 279.6,38.41 280.1,38.41 280.6,38.42 281.1,38.42 281.6,38.42 282.1,38.42 282.6,38.42 283.1,38.42 283.6,38.42 284.1,38.42 284.6,38.42 285.1,38.42 285.6,38.42 286.1,38.43 286.6,38.43 287.1,38.43 287.6,38.43 288.1,38.43 288.6,38.43 289.1,38.43 289.6,38.43 290.1,38.43 290.6,38.43 291.1,38.43 291.6,38.43 292.1,38.44 292.6,38.44 293.1,38.44 293.6,38.44 294.1,38.44 294.6,38.44 295.1,38.44 295.6,38.44 296.1,38.44 296.6,38.44 297.1,38.44 297.6,38.45 298.1,38.45 298.6,38.45 299.1,38.45 299.6,38.45 300.1,38.45 300.6,38.45 301.1,38.46 301.6,38.46 302.1,38.47 302.6,38.47 303.1,38.48 303.6,38.48 304.1,38.48 304.6,38.49 305.1,38.49 305.6,38.50 306.1,38.50 306.6,38.50 307.1,38.51 307.6,38.51 308.1,38.52 308.6,38.52 309.1,38.53 309.6,38.53 310.1,38.53 310.6,38.54 311.1,38.54 311.6,38.55 312.1,38.55 312.6,38.55 313.1,38.55 313.6,38.55 314.1,38.55 314.6,38.55 315.1,38.55 315.6,38.55 316.1,38.55 316.6,38.55 317.1,38.55 317.6,38.55 318.1,38.55 318.6,38.55 319.1,38.55 319.6,38.55 320.1,38.55 320.6,38.55 321.1,38.55 321.6,38.55 322.1,38.55 322.6,38.55 323.1,38.55 323.6,38.55 324.1,38.55 324.6,38.55 325.1,38.55 325.6,38.55 326.1,38.55 326.6,38.56 327.1,38.56 327.6,38.57 328.1,38.57 328.6,38.58 329.1,38.58 329.6,38.59 330.1,38.59 330.6,38.60 331.1,38.61 331.6,38.61 332.1,38.62 332.6,38.62 333.1,38.63 333.6,38.63 334.1,38.64 334.6,38.66 335.1,38.69 335.6,38.75 336.1,38.83 336.6,38.92 337.1,39.00 337.6,39.09 338.1,39.18 338.6,39.29 339.1,39.47 339.6,40.05 340.1,40.40 340.6,41.14 341.1,41.54 341.6,42.92 342.1,44.34 342.6,46.29 343.1,50.26 343.6,54.72 344.1,57.17 344.6,58.47 345.1,58.83 345.6,59.48 346.1,59.71 346.6,59.84 347.1,59.90 347.6,59.93 348.1,59.95 348.6,59.98 349.1,60.00 349.6,60.03 350.1,60.05 350.6,60.08 351.1,60.10 351.6,60.12 352.1,60.14 352.6,60.15 353.1,60.15 353.6,60.15 354.1,60.15 354.6,60.15 355.1,60.15 355.6,60.15 356.1,60.15 356.6,60.15 357.1,60.15 357.6,60.15 358.1,60.15 358.6,60.15 359.1,60.15 359.6,60.15 360.1,60.15 360.6,60.15 361.1,60.15 361.6,60.15 362.1,60.15 362.6,60.15 363.1,60.15 363.6,60.15 364.1,60.15 364.6,60.15 365.1,60.15 365.6,60.15 366.1,60.15 366.6,60.15 367.1,60.15 367.6,60.15 368.1,60.15 368.6,60.15 369.1,60.15 369.6,60.15 370.1,60.15 370.6,60.15 371.1,60.15 371.6,60.15 371.6,64.45 371.1,64.45 370.6,64.45 370.1,64.45 369.6,64.45 369.1,64.45 368.6,64.45 368.1,64.45 367.6,64.45 367.1,64.45 366.6,64.45 366.1,64.45 365.6,64.45 365.1,64.45 364.6,64.45 364.1,64.45 363.6,64.45 363.1,64.45 362.6,64.45 362.1,64.45 361.6,64.45 361.1,64.45 360.6,64.45 360.1,64.45 359.6,64.45 359.1,64.45 358.6,64.45 358.1,64.45 357.6,64.45 357.1,64.45 356.6,64.45 356.1,64.45 355.6,64.45 355.1,64.45 354.6,64.45 354.1,64.45 353.6,64.45 353.1,64.45 352.6,64.45 352.1,64.45 351.6,64.45 351.1,64.45 350.6,64.45 350.1,64.45 349.6,64.45 349.1,64.45 348.6,64.45 348.1,64.44 347.6,64.42 347.1,64.40 346.6,64.38 346.1,64.35 345.6,64.33 345.1,64.30 344.6,64.28 344.1,64.25 343.6,64.23 343.1,64.20 342.6,64.14 342.1,64.01 341.6,63.78 341.1,63.13 340.6,62.77 340.1,61.94 339.6,60.00 339.1,57.04 338.6,52.08 338.1,49.12 337.6,47.22 337.1,46.28 336.6,45.06 336.1,44.70 335.6,44.35 335.1,43.77 334.6,43.59 334.1,43.48 333.6,43.39 333.1,43.30 332.6,43.22 332.1,43.13 331.6,43.05 331.1,42.99 330.6,42.96 330.1,42.94 329.6,42.93 329.1,42.93 328.6,42.92 328.1,42.92 327.6,42.91 327.1,42.91 326.6,42.90 326.1,42.89 325.6,42.89 325.1,42.88 324.6,42.88 324.1,42.87 323.6,42.87 323.1,42.86 322.6,42.86 322.1,42.85 321.6,42.85 321.1,42.85 320.6,42.85 320.1,42.85 319.6,42.85 319.1,42.85 318.6,42.85 318.1,42.85 317.6,42.85 317.1,42.85 316.6,42.85 316.1,42.85 315.6,42.85 315.1,42.85 314.6,42.85 314.1,42.85 313.6,42.85 313.1,42.85 312.6,42.85 312.1,42.85 311.6,42.85 311.1,42.85 310.6,42.85 310.1,42.85 309.6,42.85 309.1,42.85 308.6,42.85 308.1,42.85 307.6,42.85 307.1,42.84 306.6,42.84 306.1,42.83 305.6,42.83 305.1,42.83 304.6,42.82 304.1,42.82 303.6,42.81 303.1,42.81 302.6,42.80 302.1,42.80 301.6,42.80 301.1,42.79 300.6,42.79 300.1,42.78 299.6,42.78 299.1,42.78 298.6,42.77 298.1,42.77 297.6,42.76 297.1,42.76 296.6,42.75 296.1,42.75 295.6,42.75 295.1,42.75 294.6,42.75 294.1,42.75 293.6,42.75 293.1,42.74 292.6,42.74 292.1,42.74 291.6,42.74 291.1,42.74 290.6,42.74 290.1,42.74 289.6,42.74 289.1,42.74 288.6,42.74 288.1,42.74 287.6,42.73 287.1,42.73 286.6,42.73 286.1,42.73 285.6,42.73 285.1,42.73 284.6,42.73 284.1,42.73 283.6,42.73 283.1,42.73 282.6,42.73 282.1,42.73 281.6,42.72 281.1,42.72 280.6,42.72 280.1,42.72 279.6,42.72 279.1,42.72 278.6,42.72 278.1,42.72 277.6,42.72 277.1,42.72 276.6,42.72 276.1,42.71 275.6,42.71 275.1,42.71 274.6,42.71 274.1,42.71 273.6,42.71 273.1,42.71 272.6,42.71 272.1,42.71 271.6,42.71 271.1,42.71 270.6,42.70 270.1,42.70 269.6,42.70 269.1,42.70 268.6,42.70 268.1,42.69 267.6,42.68 267.1,42.66 266.6,42.64 266.1,42.62 265.6,42.60 265.1,42.58 264.6,42.56 264.1,42.54 263.6,42.52 263.1,42.50 262.6,42.48 262.1,42.46 261.6,42.44 261.1,42.42 260.6,42.40 260.1,42.38 259.6,42.39 259.1,42.39 258.6,42.40 258.1,42.40 257.6,42.41 257.1,42.41 256.6,42.42 256.1,42.42 255.6,42.43 255.1,42.43 254.6,42.44 254.1,42.45 253.6,42.46 253.1,42.47 252.6,42.49 252.1,42.51 251.6,42.53 251.1,42.55 250.6,42.57 250.1,42.59 249.6,42.61 249.1,42.64 248.6,42.68 248.1,42.73 247.6,42.80 247.1,42.87 246.6,42.94 246.1,43.01 245.6,43.08 245.1,43.15 244.6,43.22 244.1,43.31 243.6,43.42 243.1,43.56 242.6,43.72 242.1,43.89 241.6,44.05 241.1,44.19 240.6,44.32 240.1,44.43 239.6,44.54 239.1,44.65 238.6,44.73 238.1,44.79 237.6,44.81 237.1,44.83 236.6,44.84 236.1,44.85 235.6,44.86 235.1,44.87 234.6,44.88 234.1,44.89 233.6,44.89 233.1,44.89 232.6,44.89 232.1,44.89 231.6,44.89 231.1,44.89 230.6,44.89 230.1,44.89 229.6,44.88 229.1,44.86 228.6,44.85 228.1,44.83 227.6,44.81 227.1,44.79 226.6,44.78 226.1,44.76 225.6,44.74 225.1,44.72 224.6,44.70 224.1,44.69 223.6,44.67 223.1,44.65 222.6,44.63 222.1,44.62 221.6,44.60 221.1,44.58 220.6,44.56 220.1,44.53 219.6,44.50 219.1,44.46 218.6,44.42 218.1,44.38 217.6,44.35 217.1,44.31 216.6,44.27 216.1,44.23 215.6,44.19 215.1,44.15 214.6,44.11 214.1,44.07 213.6,44.02 213.1,43.95 212.6,43.88 212.1,43.81 211.6,43.74 211.1,43.66 210.6,43.59 210.1,43.52 209.6,43.44 209.1,43.37 208.6,43.30 208.1,43.22 207.6,43.15 207.1,43.08 206.6,43.00 206.1,42.93 205.6,42.86 205.1,42.78 204.6,42.71 204.1,42.63 203.6,42.54 203.1,42.44 202.6,42.34 202.1,42.24 201.6,42.14 201.1,42.03 200.6,41.93 200.1,41.82 199.6,41.72 199.1,41.62 198.6,41.51 198.1,41.41 197.6,41.31 197.1,41.20 196.6,41.10 196.1,40.99 195.6,40.89 195.1,40.79 194.6,40.68 194.1,40.58 193.6,40.49 193.1,40.39 192.6,40.30 192.1,40.13 191.6,40.04 191.1,39.96 190.6,39.87 190.1,39.78 189.6,39.70 189.1,39.61 188.6,39.52 188.1,39.43 187.6,39.35 187.1,39.27 186.6,39.18 186.1,39.10 185.6,39.02 185.1,38.94 184.6,38.86 184.1,38.80 183.6,38.75 183.1,38.71 182.6,38.67 182.1,38.63 181.6,38.59 181.1,38.56 180.6,38.52 180.1,38.48 179.6,38.44 179.1,38.40 178.6,38.36 178.1,38.31 177.6,38.25 177.1,38.18 176.6,38.09 176.1,38.00 175.6,37.91 175.1,37.82 174.6,37.73 174.1,37.64 173.6,37.55 173.1,37.45 172.6,37.34 172.1,37.22 171.6,37.10 171.1,36.97 170.6,36.84 170.1,36.71 169.6,36.59 169.1,36.46 168.6,36.33 168.1,36.21 167.6,36.10 167.1,36.00 166.6,35.91 166.1,35.83 165.6,35.74 165.1,35.66 164.6,35.57 164.1,35.49 163.6,35.41 163.1,35.32 162.6,35.24 162.1,35.15 161.6,35.07 161.1,34.98 160.6,34.90 160.1,34.73 159.6,34.64 159.1,34.56 158.6,34.49 158.1,34.43 157.6,34.40 157.1,34.38 156.6,34.37 156.1,34.36 155.6,34.35 155.1,34.34 154.6,34.33 154.1,34.32 153.6,34.31 153.1,34.30 152.6,34.29 152.1,34.28 151.6,34.27 151.1,34.26 150.6,34.25 150.1,34.24 149.6,34.23 149.1,34.22 148.6,34.21 148.1,34.20 147.6,34.19 147.1,34.18 146.6,34.17 146.1,34.16 145.6,34.15 145.1,34.14 144.6,34.13 144.1,34.13 143.6,34.13 143.1,34.14 142.6,34.14 142.1,34.15 141.6,34.15 141.1,34.16 140.6,34.16 140.1,34.17 139.6,34.17 139.1,34.18 138.6,34.18 138.1,34.19 137.6,34.19 137.1,34.20 136.6,34.20 136.1,34.21 135.6,34.21 135.1,34.22 134.6,34.22 134.1,34.23 133.6,34.23 133.1,34.23 132.6,34.24 132.1,34.24 131.6,34.25 131.1,34.25 130.6,34.26 130.1,34.26 129.6,34.27 129.1,34.27 128.6,34.28 128.1,34.28 127.6,34.29 127.1,34.29 126.6,34.30 126.1,34.31 125.6,34.31 125.1,34.32 124.6,34.32 124.1,34.33 123.6,34.33 123.1,34.34 122.6,34.34 122.1,34.35 121.6,34.35 121.1,34.36 120.6,34.37 120.1,34.38 119.6,34.40 119.1,34.41 118.6,34.42 118.1,34.43 117.6,34.43 117.1,34.43 116.6,34.43 116.1,34.43 115.6,34.43 115.1,34.43 114.6,34.43 114.1,34.43 113.6,34.42 113.1,34.40 112.6,34.37 112.1,34.33 111.6,34.30 111.1,34.26 110.6,34.22 110.1,34.18 109.6,34.14 109.1,34.10 108.6,34.04 108.1,33.96 107.6,33.85 107.1,33.72 106.6,33.58 106.1,33.45 105.6,33.32 105.1,33.18 104.6,33.05 104.1,32.92 103.6,32.79 103.1,32.66 102.6,32.54 102.1,32.42 101.6,32.30 101.1,32.18 100.6,32.06 100.1,31.93 99.6,31.81 99.1,31.69 98.6,31.57 98.1,31.45 97.6,31.33 97.1,31.21 96.6,31.09 96.1,30.96 95.6,30.84 95.1,30.72 94.6,30.47 94.1,30.33 93.6,30.17 93.1,29.99 92.6,29.80 92.1,29.61 91.6,29.43 91.1,29.24 90.6,29.05 90.1,28.86 89.6,28.68 89.1,28.49 88.6,28.30 88.1,28.12 87.6,27.74 87.1,27.55 86.6,27.37 86.1,27.18 85.6,26.99 85.1,26.80 84.6,26.61 84.1,26.41 83.6,26.20 83.1,25.97 82.6,25.74 82.1,25.26 81.6,25.02 81.1,24.79 80.6,24.55 80.1,24.31 79.6,24.07 79.1,23.83 78.6,23.36 78.1,23.12 77.6,22.88 77.1,22.65 76.6,22.41 76.1,22.17 75.6,21.93 75.1,21.69 74.6,21.23 74.1,21.00 73.6,20.79 73.1,20.58 72.6,20.38 72.1,20.17 71.6,19.97 71.1,19.76 70.6,19.56 70.1,19.15 69.6,18.95 69.1,18.74 68.6,18.54 68.1,18.33 67.6,18.13 67.1,17.93 66.6,17.72 66.1,17.52 65.6,17.31 65.1,17.11 64.6,16.71 64.1,16.52 63.6,16.37 63.1,16.26 62.6,16.17 62.1,16.09 61.6,16.01 61.1,15.93 60.6,15.85 60.1,15.77 59.6,15.69 59.1,15.61 58.6,15.53 58.1,15.45 57.6,15.37 57.1,15.29 56.6,15.20 56.1,15.11 55.6,15.01 55.1,14.91 54.6,14.80 54.1,14.70 53.6,14.59 53.1,14.49 52.6,14.38 52.1,14.27 51.6,14.17 51.1,14.06 50.6,13.96 50.1,13.85 49.6,13.75 49.1,13.65 48.6,13.56 48.1,13.48 47.6,13.42 47.1,13.35 46.6,13.29 46.1,13.23 45.6,13.16 45.1,13.10 44.6,13.04 44.1,12.98 43.6,12.91 43.1,12.85 42.6,12.79 42.1,12.73 41.6,12.66 41.1,12.60 40.6,12.54 40.1,12.48 39.6,12.41 39.1,12.35Z" fill="#ff7f00"/>
<path d="M39.1,8.80 39.6,8.80 40.1,8.80 40.6,8.80 41.1,8.80 41.6,8.80 42.1,8.80 42.6,8.80 43.1,8.80 43.6,8.89 44.1,8.97 44.6,9.06 45.1,9.14 45.6,9.23 46.1,9.31 46.6,9.40 47.1,9.48 47.6,9.57 48.1,9.66 48.6,9.74 49.1,9.83 49.6,9.91 50.1,10.00 50.6,10.08 51.1,10.17 51.6,10.25 52.1,10.34 52.6,10.44 53.1,10.55 53.6,10.67 54.1,10.79 54.6,11.04 55.1,11.16 55.6,11.29 56.1,11.41 56.6,11.53 57.1,11.66 57.6,11.78 58.1,11.91 58.6,12.03 59.1,12.15 59.6,12.27 60.1,12.38 60.6,12.47 61.1,12.56 61.6,12.65 62.1,12.73 62.6,12.82 63.1,12.91 63.6,12.99 64.1,13.08 64.6,13.17 65.1,13.25 65.6,13.34 66.1,13.43 66.6,13.52 67.1,13.62 67.6,13.74 68.1,13.89 68.6,14.05 69.1,14.22 69.6,14.38 70.1,14.55 70.6,14.71 71.1,15.05 71.6,15.21 72.1,15.38 72.6,15.55 73.1,15.71 73.6,15.88 74.1,16.04 74.6,16.21 75.1,16.38 75.6,16.54 76.1,16.71 76.6,16.88 77.1,17.04 77.6,17.21 78.1,17.40 78.6,17.59 79.1,17.99 79.6,18.20 80.1,18.40 80.6,18.61 81.1,18.81 81.6,19.02 82.1,19.22 82.6,19.43 83.1,19.63 83.6,19.84 84.1,20.25 84.6,20.45 85.1,20.66 85.6,20.86 86.1,21.07 86.6,21.27 87.1,21.47 87.6,21.67 88.1,21.85 88.6,22.03 89.1,22.20 89.6,22.37 90.1,22.70 90.6,22.87 91.1,23.04 91.6,23.21 92.1,23.38 92.6,23.55 93.1,23.72 93.6,23.89 94.1,24.06 94.6,24.22 95.1,24.39 95.6,24.56 96.1,24.73 96.6,24.90 97.1,25.06 97.6,25.22 98.1,25.36 98.6,25.59 99.1,25.71 99.6,25.82 100.1,25.93 100.6,26.04 101.1,26.15 101.6,26.26 102.1,26.38 102.6,26.49 103.1,26.60 103.6,26.71 104.1,26.82 104.6,26.94 105.1,27.05 105.6,27.16 106.1,27.27 106.6,27.38 107.1,27.50 107.6,27.61 108.1,27.73 108.6,27.85 109.1,27.97 109.6,28.09 110.1,28.20 110.6,28.32 111.1,28.44 111.6,28.55 112.1,28.64 112.6,28.71 113.1,28.78 113.6,28.83 114.1,28.89 114.6,28.95 115.1,29.00 115.6,29.06 116.1,29.11 116.6,29.17 117.1,29.23 117.6,29.29 118.1,29.35 118.6,29.41 119.1,29.47 119.6,29.53 120.1,29.59 120.6,29.65 121.1,29.71 121.6,29.75 122.1,29.79 122.6,29.80 123.1,29.81 123.6,29.82 124.1,29.82 124.6,29.83 125.1,29.83 125.6,29.84 126.1,29.84 126.6,29.85 127.1,29.85 127.6,29.86 128.1,29.86 128.6,29.87 129.1,29.87 129.6,29.88 130.1,29.88 130.6,29.89 131.1,29.89 131.6,29.89 132.1,29.89 132.6,29.88 133.1,29.88 133.6,29.88 134.1,29.88 134.6,29.88 135.1,29.88 135.6,29.87 136.1,29.87 136.6,29.87 137.1,29.87 137.6,29.87 138.1,29.87 138.6,29.86 139.1,29.86 139.6,29.86 140.1,29.86 140.6,29.86 141.1,29.86 141.6,29.85 142.1,29.85 142.6,29.85 143.1,29.85 143.6,29.85 144.1,29.85 144.6,29.85 145.1,29.85 145.6,29.85 146.1,29.85 146.6,29.85 147.1,29.85 147.6,29.85 148.1,29.86 148.6,29.86 149.1,29.86 149.6,29.86 150.1,29.87 150.6,29.87 151.1,29.87 151.6,29.87 152.1,29.88 152.6,29.88 153.1,29.88 153.6,29.88 154.1,29.89 154.6,29.89 155.1,29.89 155.6,29.89 156.1,29.90 156.6,29.90 157.1,29.91 157.6,29.93 158.1,29.96 158.6,29.98 159.1,30.01 159.6,30.03 160.1,30.06 160.6,30.09 161.1,30.11 161.6,30.15 162.1,30.19 162.6,30.25 163.1,30.31 163.6,30.37 164.1,30.43 164.6,30.49 165.1,30.55 165.6,30.62 166.1,30.68 166.6,30.75 167.1,30.82 167.6,31.02 168.1,31.13 168.6,31.24 169.1,31.35 169.6,31.46 170.1,31.57 170.6,31.68 171.1,31.79 171.6,31.91 172.1,32.03 172.6,32.16 173.1,32.28 173.6,32.41 174.1,32.54 174.6,32.67 175.1,32.80 175.6,32.92 176.1,33.05 176.6,33.16 177.1,33.26 177.6,33.35 178.1,33.44 178.6,33.53 179.1,33.62 179.6,33.71 180.1,33.80 180.6,33.89 181.1,33.97 181.6,34.04 182.1,34.09 182.6,34.14 183.1,34.18 183.6,34.21 184.1,34.25 184.6,34.29 185.1,34.33 185.6,34.37 186.1,34.41 186.6,34.44 187.1,34.48 187.6,34.53 188.1,34.59 188.6,34.66 189.1,34.74 189.6,34.82 190.1,34.90 190.6,34.98 191.1,35.06 191.6,35.15 192.1,35.24 192.6,35.32 193.1,35.41 193.6,35.50 194.1,35.58 194.6,35.67 195.1,35.76 195.6,35.85 196.1,35.93 196.6,36.11 197.1,36.20 197.6,36.29 198.1,36.39 198.6,36.49 199.1,36.60 199.6,36.70 200.1,36.81 200.6,36.91 201.1,37.01 201.6,37.12 202.1,37.22 202.6,37.32 203.1,37.43 203.6,37.53 204.1,37.64 204.6,37.74 205.1,37.84 205.6,37.95 206.1,38.05 206.6,38.15 207.1,38.25 207.6,38.35 208.1,38.43 208.6,38.50 209.1,38.58 209.6,38.65 210.1,38.72 210.6,38.80 211.1,38.87 211.6,38.94 212.1,39.02 212.6,39.09 213.1,39.16 213.6,39.24 214.1,39.31 214.6,39.38 215.1,39.46 215.6,39.53 216.1,39.60 216.6,39.67 217.1,39.74 217.6,39.80 218.1,39.85 218.6,39.89 219.1,39.93 219.6,39.96 220.1,40.00 220.6,40.04 221.1,40.08 221.6,40.12 222.1,40.16 222.6,40.19 223.1,40.23 223.6,40.27 224.1,40.30 224.6,40.32 225.1,40.34 225.6,40.36 226.1,40.38 226.6,40.39 227.1,40.41 227.6,40.43 228.1,40.45 228.6,40.47 229.1,40.48 229.6,40.50 230.1,40.52 230.6,40.54 231.1,40.55 231.6,40.57 232.1,40.59 232.6,40.59 233.1,40.58 233.6,40.57 234.1,40.55 234.6,40.52 235.1,40.47 235.6,40.40 236.1,40.32 236.6,40.24 237.1,40.16 237.6,40.06 238.1,39.95 238.6,39.84 239.1,39.72 239.6,39.60 240.1,39.50 240.6,39.40 241.1,39.31 241.6,39.22 242.1,39.13 242.6,39.04 243.1,38.95 243.6,38.86 244.1,38.78 244.6,38.70 245.1,38.65 245.6,38.61 246.1,38.58 246.6,38.56 247.1,38.53 247.6,38.51 248.1,38.48 248.6,38.45 249.1,38.43 249.6,38.41 250.1,38.40 250.6,38.39 251.1,38.39 251.6,38.38 252.1,38.38 252.6,38.37 253.1,38.36 253.6,38.36 254.1,38.35 254.6,38.35 255.1,38.34 255.6,38.34 256.1,38.33 256.6,38.33 257.1,38.32 257.6,38.32 258.1,38.31 258.6,38.31 259.1,38.31 259.6,38.31 260.1,38.31 260.6,38.31 261.1,38.31 261.6,38.31 262.1,38.31 262.6,38.31 263.1,38.31 263.6,38.32 264.1,38.34 264.6,38.36 265.1,38.37 265.6,38.39 266.1,38.41 266.6,38.43 267.1,38.44 267.6,38.46 268.1,38.48 268.6,38.49 269.1,38.51 269.6,38.53 270.1,38.55 270.6,38.56 271.1,38.58 271.6,38.59 272.1,38.60 272.6,38.60 273.1,38.60 273.6,38.60 274.1,38.60 274.6,38.61 275.1,38.61 275.6,38.61 276.1,38.61 276.6,38.61 277.1,38.61 277.6,38.61 278.1,38.61 278.6,38.61 279.1,38.61 279.6,38.61 280.1,38.62 280.6,38.62 281.1,38.62 281.6,38.62 282.1,38.62 282.6,38.62 283.1,38.62 283.6,38.62 284.1,38.62 284.6,38.62 285.1,38.62 285.6,38.62 286.1,38.63 286.6,38.63 287.1,38.63 287.6,38.63 288.1,38.63 288.6,38.63 289.1,38.63 289.6,38.63 290.1,38.63 290.6,38.63 291.1,38.63 291.6,38.64 292.1,38.64 292.6,38.64 293.1,38.64 293.6,38.64 294.1,38.64 294.6,38.64 295.1,38.64 295.6,38.64 296.1,38.64 296.6,38.64 297.1,38.65 297.6,38.65 298.1,38.65 298.6,38.65 299.1,38.65 299.6,38.65 300.1,38.66 300.6,38.66 301.1,38.67 301.6,38.67 302.1,38.68 302.6,38.69 303.1,38.69 303.6,38.70 304.1,38.71 304.6,38.71 305.1,38.72 305.6,38.72 306.1,38.73 306.6,38.74 307.1,38.74 307.6,38.75 308.1,38.76 308.6,38.76 309.1,38.77 309.6,38.77 310.1,38.78 310.6,38.79 311.1,38.79 311.6,38.80 312.1,38.80 312.6,38.80 313.1,38.81 313.6,38.81 314.1,38.81 314.6,38.81 315.1,38.82 315.6,38.82 316.1,38.82 316.6,38.82 317.1,38.83 317.6,38.83 318.1,38.83 318.6,38.83 319.1,38.84 319.6,38.84 320.1,38.84 320.6,38.84 321.1,38.85 321.6,38.85 322.1,38.86 322.6,38.87 323.1,38.89 323.6,38.90 324.1,38.91 324.6,38.92 325.1,38.94 325.6,38.96 326.1,38.99 326.6,39.04 327.1,39.08 327.6,39.13 328.1,39.17 328.6,39.22 329.1,39.26 329.6,39.31 330.1,39.37 330.6,39.44 331.1,39.55 331.6,39.67 332.1,39.81 332.6,39.94 333.1,40.08 333.6,40.22 334.1,40.36 334.6,40.52 335.1,40.69 335.6,40.89 336.1,41.09 336.6,41.29 337.1,41.52 337.6,42.10 338.1,42.46 338.6,43.21 339.1,43.59 339.6,44.38 340.1,44.79 340.6,45.60 341.1,46.42 341.6,47.27 342.1,48.15 342.6,49.04 343.1,49.93 343.6,50.84 344.1,52.21 344.6,53.09 345.1,53.89 345.6,54.66 346.1,55.04 346.6,55.76 347.1,56.10 347.6,56.44 348.1,57.11 348.6,57.44 349.1,57.76 349.6,58.31 350.1,58.54 350.6,58.76 351.1,58.98 351.6,59.19 352.1,59.38 352.6,59.53 353.1,59.63 353.6,59.69 354.1,59.74 354.6,59.78 355.1,59.83 355.6,59.87 356.1,59.91 356.6,59.96 357.1,60.00 357.6,60.03 358.1,60.05 358.6,60.06 359.1,60.07 359.6,60.08 360.1,60.09 360.6,60.10 361.1,60.10 361.6,60.11 362.1,60.12 362.6,60.13 363.1,60.13 363.6,60.14 364.1,60.15 364.6,60.15 365.1,60.15 365.6,60.15 366.1,60.15 366.6,60.15 367.1,60.15 367.6,60.15 368.1,60.15 368.6,60.15 369.1,60.15 369.6,60.15 370.1,60.15 370.6,60.15 371.1,60.15 371.6,60.15 371.6,64.35 371.1,64.35 370.6,64.35 370.1,64.35 369.6,64.35 369.1,64.35 368.6,64.35 368.1,64.35 367.6,64.35 367.1,64.35 366.6,64.35 366.1,64.35 365.6,64.35 365.1,64.35 364.6,64.35 364.1,64.35 363.6,64.35 363.1,64.35 362.6,64.35 362.1,64.35 361.6,64.35 361.1,64.35 360.6,64.35 360.1,64.35 359.6,64.34 359.1,64.33 358.6,64.33 358.1,64.32 357.6,64.31 357.1,64.30 356.6,64.30 356.1,64.29 355.6,64.28 355.1,64.27 354.6,64.26 354.1,64.25 353.6,64.23 353.1,64.20 352.6,64.16 352.1,64.11 351.6,64.07 351.1,64.03 350.6,63.98 350.1,63.94 349.6,63.89 349.1,63.83 348.6,63.73 348.1,63.58 347.6,63.39 347.1,62.96 346.6,62.74 346.1,62.51 345.6,62.25 345.1,61.96 344.6,61.64 344.1,60.97 343.6,60.64 343.1,60.30 342.6,59.61 342.1,59.24 341.6,58.48 341.1,58.09 340.6,57.29 340.1,56.41 339.6,55.04 339.1,54.13 338.6,53.24 338.1,52.35 337.6,51.47 337.1,50.62 336.6,49.80 336.1,48.99 335.6,48.18 335.1,47.79 334.6,47.03 334.1,46.66 333.6,45.98 333.1,45.72 332.6,45.49 332.1,45.29 331.6,45.09 331.1,44.72 330.6,44.56 330.1,44.42 329.6,44.28 329.1,44.14 328.6,44.01 328.1,43.87 327.6,43.75 327.1,43.64 326.6,43.57 326.1,43.51 325.6,43.46 325.1,43.42 324.6,43.37 324.1,43.33 323.6,43.28 323.1,43.24 322.6,43.19 322.1,43.16 321.6,43.14 321.1,43.12 320.6,43.11 320.1,43.10 319.6,43.09 319.1,43.07 318.6,43.06 318.1,43.05 317.6,43.05 317.1,43.04 316.6,43.04 316.1,43.04 315.6,43.04 315.1,43.03 314.6,43.03 314.1,43.03 313.6,43.03 313.1,43.02 312.6,43.02 312.1,43.02 311.6,43.02 311.1,43.01 310.6,43.01 310.1,43.01 309.6,43.01 309.1,43.00 308.6,43.00 308.1,43.00 307.6,42.99 307.1,42.99 306.6,42.98 306.1,42.97 305.6,42.97 305.1,42.96 304.6,42.96 304.1,42.95 303.6,42.94 303.1,42.94 302.6,42.93 302.1,42.92 301.6,42.92 301.1,42.91 300.6,42.91 300.1,42.90 299.6,42.89 299.1,42.89 298.6,42.88 298.1,42.87 297.6,42.87 297.1,42.86 296.6,42.86 296.1,42.85 295.6,42.85 295.1,42.85 294.6,42.85 294.1,42.85 293.6,42.85 293.1,42.84 292.6,42.84 292.1,42.84 291.6,42.84 291.1,42.84 290.6,42.84 290.1,42.84 289.6,42.84 289.1,42.84 288.6,42.84 288.1,42.84 287.6,42.83 287.1,42.83 286.6,42.83 286.1,42.83 285.6,42.83 285.1,42.83 284.6,42.83 284.1,42.83 283.6,42.83 283.1,42.83 282.6,42.83 282.1,42.82 281.6,42.82 281.1,42.82 280.6,42.82 280.1,42.82 279.6,42.82 279.1,42.82 278.6,42.82 278.1,42.82 277.6,42.82 277.1,42.82 276.6,42.82 276.1,42.81 275.6,42.81 275.1,42.81 274.6,42.81 274.1,42.81 273.6,42.81 273.1,42.81 272.6,42.81 272.1,42.81 271.6,42.81 271.1,42.81 270.6,42.80 270.1,42.80 269.6,42.80 269.1,42.80 268.6,42.80 268.1,42.79 267.6,42.78 267.1,42.76 266.6,42.75 266.1,42.73 265.6,42.71 265.1,42.69 264.6,42.68 264.1,42.66 263.6,42.64 263.1,42.63 262.6,42.61 262.1,42.59 261.6,42.57 261.1,42.56 260.6,42.54 260.1,42.53 259.6,42.53 259.1,42.54 258.6,42.54 258.1,42.55 257.6,42.55 257.1,42.56 256.6,42.56 256.1,42.57 255.6,42.58 255.1,42.58 254.6,42.59 254.1,42.59 253.6,42.60 253.1,42.61 252.6,42.63 252.1,42.65 251.6,42.68 251.1,42.71 250.6,42.73 250.1,42.76 249.6,42.78 249.1,42.81 248.6,42.85 248.1,42.90 247.6,42.98 247.1,43.06 246.6,43.15 246.1,43.24 245.6,43.33 245.1,43.42 244.6,43.60 244.1,43.70 243.6,43.80 243.1,43.92 242.6,44.04 242.1,44.15 241.6,44.26 241.1,44.36 240.6,44.44 240.1,44.52 239.6,44.60 239.1,44.67 238.6,44.72 238.1,44.75 237.6,44.77 237.1,44.78 236.6,44.79 236.1,44.80 235.6,44.81 235.1,44.82 234.6,44.83 234.1,44.84 233.6,44.84 233.1,44.84 232.6,44.84 232.1,44.84 231.6,44.84 231.1,44.84 230.6,44.84 230.1,44.84 229.6,44.83 229.1,44.82 228.6,44.81 228.1,44.79 227.6,44.77 227.1,44.75 226.6,44.74 226.1,44.72 225.6,44.70 225.1,44.68 224.6,44.67 224.1,44.65 223.6,44.63 223.1,44.61 222.6,44.59 222.1,44.58 221.6,44.56 221.1,44.54 220.6,44.52 220.1,44.50 219.6,44.47 219.1,44.43 218.6,44.39 218.1,44.36 217.6,44.32 217.1,44.28 216.6,44.24 216.1,44.20 215.6,44.16 215.1,44.13 214.6,44.09 214.1,44.05 213.6,44.00 213.1,43.94 212.6,43.87 212.1,43.80 211.6,43.73 211.1,43.66 210.6,43.58 210.1,43.51 209.6,43.44 209.1,43.36 208.6,43.22 208.1,43.14 207.6,43.07 207.1,43.00 206.6,42.92 206.1,42.85 205.6,42.78 205.1,42.70 204.6,42.63 204.1,42.55 203.6,42.45 203.1,42.35 202.6,42.25 202.1,42.15 201.6,42.04 201.1,41.94 200.6,41.84 200.1,41.73 199.6,41.63 199.1,41.52 198.6,41.42 198.1,41.32 197.6,41.21 197.1,41.11 196.6,41.01 196.1,40.90 195.6,40.80 195.1,40.69 194.6,40.59 194.1,40.49 193.6,40.40 193.1,40.31 192.6,40.22 192.1,40.13 191.6,40.05 191.1,39.96 190.6,39.87 190.1,39.78 189.6,39.70 189.1,39.61 188.6,39.52 188.1,39.44 187.6,39.35 187.1,39.26 186.6,39.18 186.1,39.10 185.6,39.02 185.1,38.94 184.6,38.86 184.1,38.79 183.6,38.73 183.1,38.68 182.6,38.64 182.1,38.61 181.6,38.57 181.1,38.53 180.6,38.49 180.1,38.45 179.6,38.41 179.1,38.38 178.6,38.34 178.1,38.29 177.6,38.24 177.1,38.17 176.6,38.09 176.1,38.00 175.6,37.91 175.1,37.82 174.6,37.73 174.1,37.64 173.6,37.46 173.1,37.36 172.6,37.25 172.1,37.12 171.6,37.00 171.1,36.87 170.6,36.74 170.1,36.61 169.6,36.48 169.1,36.36 168.6,36.23 168.1,36.11 167.6,35.99 167.1,35.88 166.6,35.77 166.1,35.66 165.6,35.55 165.1,35.44 164.6,35.33 164.1,35.22 163.6,35.12 163.1,35.02 162.6,34.95 162.1,34.88 161.6,34.82 161.1,34.75 160.6,34.69 160.1,34.63 159.6,34.57 159.1,34.51 158.6,34.45 158.1,34.39 157.6,34.35 157.1,34.31 156.6,34.29 156.1,34.26 155.6,34.23 155.1,34.21 154.6,34.18 154.1,34.16 153.6,34.13 153.1,34.11 152.6,34.10 152.1,34.10 151.6,34.09 151.1,34.09 150.6,34.09 150.1,34.09 149.6,34.08 149.1,34.08 148.6,34.08 148.1,34.08 147.6,34.07 147.1,34.07 146.6,34.07 146.1,34.07 145.6,34.06 145.1,34.06 144.6,34.06 144.1,34.06 143.6,34.06 143.1,34.06 142.6,34.06 142.1,34.07 141.6,34.07 141.1,34.07 140.6,34.07 140.1,34.07 139.6,34.07 139.1,34.08 138.6,34.08 138.1,34.08 137.6,34.08 137.1,34.08 136.6,34.08 136.1,34.09 135.6,34.09 135.1,34.09 134.6,34.09 134.1,34.09 133.6,34.09 133.1,34.10 132.6,34.10 132.1,34.10 131.6,34.10 131.1,34.10 130.6,34.10 130.1,34.10 129.6,34.10 129.1,34.10 128.6,34.10 128.1,34.10 127.6,34.10 127.1,34.09 126.6,34.09 126.1,34.08 125.6,34.08 125.1,34.07 124.6,34.07 124.1,34.06 123.6,34.06 123.1,34.05 122.6,34.05 122.1,34.04 121.6,34.04 121.1,34.03 120.6,34.03 120.1,34.02 119.6,34.02 119.1,34.01 118.6,34.00 118.1,33.99 117.6,33.95 117.1,33.91 116.6,33.85 116.1,33.79 115.6,33.73 115.1,33.67 114.6,33.61 114.1,33.55 113.6,33.49 113.1,33.43 112.6,33.37 112.1,33.31 111.6,33.26 111.1,33.20 110.6,33.15 110.1,33.09 109.6,33.03 109.1,32.98 108.6,32.91 108.1,32.84 107.6,32.75 107.1,32.64 106.6,32.52 106.1,32.40 105.6,32.29 105.1,32.05 104.6,31.93 104.1,31.81 103.6,31.70 103.1,31.58 102.6,31.47 102.1,31.36 101.6,31.25 101.1,31.14 100.6,31.02 100.1,30.91 99.6,30.80 99.1,30.69 98.6,30.58 98.1,30.46 97.6,30.35 97.1,30.24 96.6,30.13 96.1,30.02 95.6,29.91 95.1,29.79 94.6,29.68 94.1,29.56 93.6,29.42 93.1,29.26 92.6,29.10 92.1,28.93 91.6,28.76 91.1,28.59 90.6,28.42 90.1,28.09 89.6,27.92 89.1,27.75 88.6,27.58 88.1,27.41 87.6,27.24 87.1,27.07 86.6,26.90 86.1,26.74 85.6,26.57 85.1,26.40 84.6,26.23 84.1,26.05 83.6,25.87 83.1,25.67 82.6,25.27 82.1,25.06 81.6,24.86 81.1,24.65 80.6,24.45 80.1,24.24 79.6,24.04 79.1,23.83 78.6,23.63 78.1,23.42 77.6,23.01 77.1,22.81 76.6,22.60 76.1,22.40 75.6,22.19 75.1,21.99 74.6,21.79 74.1,21.60 73.6,21.41 73.1,21.24 72.6,21.08 72.1,20.91 71.6,20.58 71.1,20.41 70.6,20.24 70.1,20.08 69.6,19.91 69.1,19.75 68.6,19.58 68.1,19.41 67.6,19.25 67.1,19.08 66.6,18.91 66.1,18.75 65.6,18.58 65.1,18.42 64.6,18.25 64.1,18.09 63.6,17.94 63.1,17.72 62.6,17.63 62.1,17.54 61.6,17.45 61.1,17.37 60.6,17.28 60.1,17.19 59.6,17.11 59.1,17.02 58.6,16.93 58.1,16.85 57.6,16.76 57.1,16.67 56.6,16.58 56.1,16.47 55.6,16.35 55.1,16.23 54.6,16.11 54.1,15.98 53.6,15.86 53.1,15.73 52.6,15.61 52.1,15.49 51.6,15.36 51.1,15.24 50.6,15.11 50.1,14.99 49.6,14.87 49.1,14.75 48.6,14.64 48.1,14.54 47.6,14.45 47.1,14.37 46.6,14.28 46.1,14.20 45.6,14.11 45.1,14.03 44.6,13.94 44.1,13.86 43.6,13.77 43.1,13.68 42.6,13.60 42.1,13.51 41.6,13.43 41.1,13.34 40.6,13.26 40.1,13.17 39.6,13.09 39.1,13.00Z" fill="#4daf4a"/>
<rect x="315.5" y="136.6" width="72" height="76.6" fill="#fff"/><line x1="356.4" y1="142.2" x2="382.6" y2="142.2" stroke="#e41a1c" stroke-width="1.05"/><line x1="356.4" y1="155.2" x2="382.6" y2="155.2" stroke="#377eb8" stroke-width="1.05"/><line x1="356.4" y1="168.15" x2="382.6" y2="168.15" stroke="#984ea3" stroke-width="1.05"/><line x1="356.4" y1="181.1" x2="382.6" y2="181.1" stroke="#a65628" stroke-width="1.05"/><line x1="356.4" y1="194.15" x2="382.6" y2="194.15" stroke="#ff7f00" stroke-width="1.05"/><line x1="356.4" y1="207.1" x2="382.6" y2="207.1" stroke="#4daf4a" stroke-width="1.05"/><circle cx="369.3" cy="142.2" r="2.9" fill="none" stroke="#e41a1c" stroke-width="1.1"/><path d="M367.8,153.7 L370.8,156.7 M367.8,156.7 L370.8,153.7" stroke="#377eb8" stroke-width="1.1" fill="none"/><rect x="367.7" y="166.55" width="3.2" height="3.2" fill="#984ea3" fill-opacity="0.45" stroke="#984ea3" stroke-width="0.9"/><rect x="367.7" y="192.55" width="3.2" height="3.2" fill="#ff7f00" fill-opacity="0.45" stroke="#ff7f00" stroke-width="0.9"/><rect x="367.7" y="205.5" width="3.2" height="3.2" fill="#4daf4a" fill-opacity="0.45" stroke="#4daf4a" stroke-width="0.9"/>
<g stroke="#000" stroke-width="1.3" fill="none"><g stroke-width="1.1"><line x1="41.20" y1="218.35" x2="41.20" y2="213.15"/><line x1="41.20" y1="10.5" x2="41.20" y2="15.7"/><line x1="85.08" y1="218.35" x2="85.08" y2="213.15"/><line x1="85.08" y1="10.5" x2="85.08" y2="15.7"/><line x1="128.95" y1="218.35" x2="128.95" y2="213.15"/><line x1="128.95" y1="10.5" x2="128.95" y2="15.7"/><line x1="172.82" y1="218.35" x2="172.82" y2="213.15"/><line x1="172.82" y1="10.5" x2="172.82" y2="15.7"/><line x1="216.70" y1="218.35" x2="216.70" y2="213.15"/><line x1="216.70" y1="10.5" x2="216.70" y2="15.7"/><line x1="260.57" y1="218.35" x2="260.57" y2="213.15"/><line x1="260.57" y1="10.5" x2="260.57" y2="15.7"/><line x1="304.45" y1="218.35" x2="304.45" y2="213.15"/><line x1="304.45" y1="10.5" x2="304.45" y2="15.7"/><line x1="348.32" y1="218.35" x2="348.32" y2="213.15"/><line x1="348.32" y1="10.5" x2="348.32" y2="15.7"/><line x1="392.20" y1="218.35" x2="392.20" y2="213.15"/><line x1="392.20" y1="10.5" x2="392.20" y2="15.7"/><line x1="41.2" y1="218.35" x2="46.400000000000006" y2="218.35"/><line x1="392.2" y1="218.35" x2="387.0" y2="218.35"/><line x1="41.2" y1="197.56" x2="46.400000000000006" y2="197.56"/><line x1="392.2" y1="197.56" x2="387.0" y2="197.56"/><line x1="41.2" y1="176.78" x2="46.400000000000006" y2="176.78"/><line x1="392.2" y1="176.78" x2="387.0" y2="176.78"/><line x1="41.2" y1="156.00" x2="46.400000000000006" y2="156.00"/><line x1="392.2" y1="156.00" x2="387.0" y2="156.00"/><line x1="41.2" y1="135.21" x2="46.400000000000006" y2="135.21"/><line x1="392.2" y1="135.21" x2="387.0" y2="135.21"/><line x1="41.2" y1="114.42" x2="46.400000000000006" y2="114.42"/><line x1="392.2" y1="114.42" x2="387.0" y2="114.42"/><line x1="41.2" y1="93.64" x2="46.400000000000006" y2="93.64"/><line x1="392.2" y1="93.64" x2="387.0" y2="93.64"/><line x1="41.2" y1="72.85" x2="46.400000000000006" y2="72.85"/><line x1="392.2" y1="72.85" x2="387.0" y2="72.85"/><line x1="41.2" y1="52.07" x2="46.400000000000006" y2="52.07"/><line x1="392.2" y1="52.07" x2="387.0" y2="52.07"/><line x1="41.2" y1="31.28" x2="46.400000000000006" y2="31.28"/><line x1="392.2" y1="31.28" x2="387.0" y2="31.28"/><line x1="41.2" y1="10.50" x2="46.400000000000006" y2="10.50"/><line x1="392.2" y1="10.50" x2="387.0" y2="10.50"/></g><rect x="41.2" y="10.5" width="351.0" height="207.85"/></g>
<defs><filter id="nf" x="0" y="0" width="100%" height="100%" filterUnits="userSpaceOnUse"><feOffset dx="0" dy="0"/></filter></defs><g filter="url(#nf)" opacity="0.92"><text transform="translate(42.20,236.90) scale(0.93,1)" font-size="9.7" text-anchor="middle">0</text><text transform="translate(86.08,236.90) scale(0.93,1)" font-size="9.7" text-anchor="middle">200</text><text transform="translate(129.95,236.90) scale(0.93,1)" font-size="9.7" text-anchor="middle">400</text><text transform="translate(173.82,236.90) scale(0.93,1)" font-size="9.7" text-anchor="middle">600</text><text transform="translate(217.70,236.90) scale(0.93,1)" font-size="9.7" text-anchor="middle">800</text><text transform="translate(261.57,236.90) scale(0.93,1)" font-size="9.7" text-anchor="middle">1000</text><text transform="translate(305.45,236.90) scale(0.93,1)" font-size="9.7" text-anchor="middle">1200</text><text transform="translate(349.32,236.90) scale(0.93,1)" font-size="9.7" text-anchor="middle">1400</text><text transform="translate(393.20,236.90) scale(0.93,1)" font-size="9.7" text-anchor="middle">1600</text><text transform="translate(36.20,223.75) scale(0.93,1)" font-size="9.7" text-anchor="end">0</text><text transform="translate(36.20,202.97) scale(0.93,1)" font-size="9.7" text-anchor="end">2</text><text transform="translate(36.20,182.18) scale(0.93,1)" font-size="9.7" text-anchor="end">4</text><text transform="translate(36.20,161.40) scale(0.93,1)" font-size="9.7" text-anchor="end">6</text><text transform="translate(36.20,140.61) scale(0.93,1)" font-size="9.7" text-anchor="end">8</text><text transform="translate(36.20,119.83) scale(0.93,1)" font-size="9.7" text-anchor="end">10</text><text transform="translate(36.20,99.04) scale(0.93,1)" font-size="9.7" text-anchor="end">12</text><text transform="translate(36.20,78.25) scale(0.93,1)" font-size="9.7" text-anchor="end">14</text><text transform="translate(36.20,57.47) scale(0.93,1)" font-size="9.7" text-anchor="end">16</text><text transform="translate(36.20,36.68) scale(0.93,1)" font-size="9.7" text-anchor="end">18</text><text transform="translate(36.20,15.90) scale(0.93,1)" font-size="9.7" text-anchor="end">20</text><text transform="translate(14.70,114.30) rotate(-90) scale(0.93,1)" font-size="9.7" text-anchor="middle">h + z</text>
<text transform="translate(352.00,147.50) scale(0.93,1)" font-size="9.7" text-anchor="end">HLLACU</text><text transform="translate(352.00,159.10) scale(0.93,1)" font-size="9.7" text-anchor="end">IMEX<tspan font-size="7.75" dy="1.8">glob</tspan></text><text transform="translate(352.00,172.05) scale(0.93,1)" font-size="9.7" text-anchor="end">EXEX<tspan font-size="7.75" dy="1.8">glob</tspan></text><text transform="translate(352.00,186.40) scale(0.93,1)" font-size="9.7" text-anchor="end">z</text><text transform="translate(352.00,198.05) scale(0.93,1)" font-size="9.7" text-anchor="end">EXEX<tspan font-size="7.75" dy="1.8">loc</tspan></text><text transform="translate(352.00,211.00) scale(0.93,1)" font-size="9.7" text-anchor="end">IMEX<tspan font-size="7.75" dy="1.8">loc</tspan></text></g>
</svg></body></html>
